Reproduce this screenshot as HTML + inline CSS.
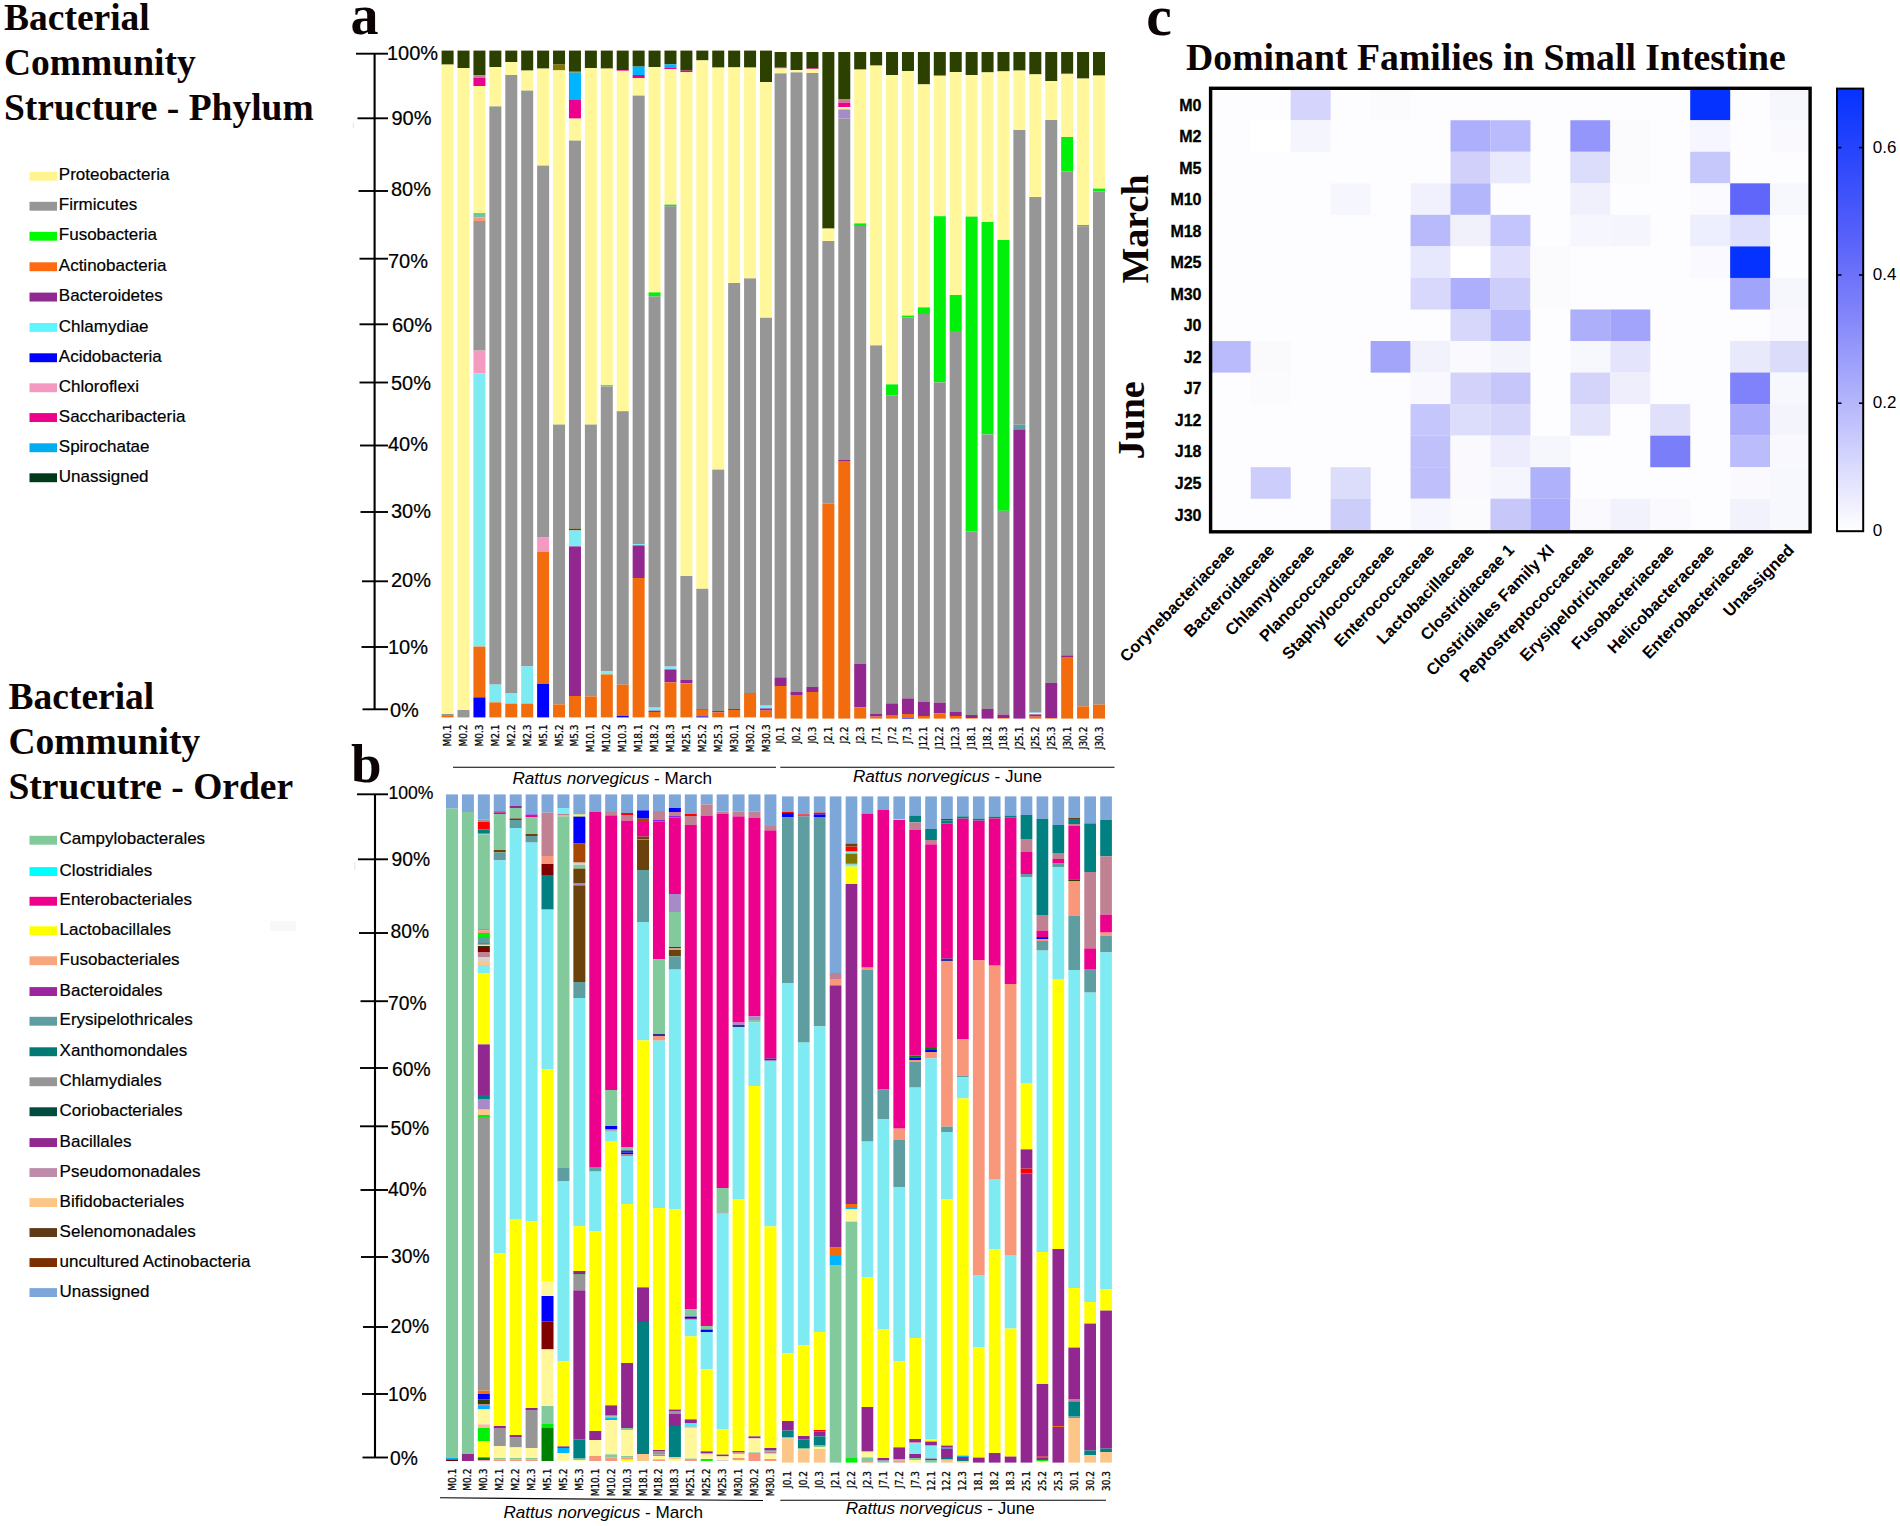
<!DOCTYPE html>
<html><head><meta charset="utf-8"><title>Bacterial Community Structure</title>
<style>
html,body{margin:0;padding:0;background:#fff;}
body{width:1900px;height:1526px;overflow:hidden;}
svg{display:block;}
.ttl{font-family:"Liberation Serif",serif;font-weight:bold;font-size:37.5px;fill:#0c0404;}
.ttl2{font-family:"Liberation Serif",serif;font-weight:bold;font-size:37.75px;fill:#0c0404;}
.pl{font-family:"Liberation Serif",serif;font-weight:bold;fill:#0c0404;}
.mj{font-family:"Liberation Serif",serif;font-weight:bold;font-size:38px;fill:#0c0404;}
.lg{font-family:"Liberation Sans",sans-serif;font-size:17px;fill:#000;stroke:#000;stroke-width:0.2px;}
.ax{font-family:"Liberation Sans",sans-serif;fill:#000;stroke:#000;stroke-width:0.2px;}
.rn{font-family:"Liberation Sans",sans-serif;font-size:17.1px;fill:#000;}
.sl{font-family:"DejaVu Sans",sans-serif;font-size:9px;fill:#000;stroke:#000;stroke-width:0.25px;}
.rl{font-family:"Liberation Sans",sans-serif;font-weight:bold;font-size:16px;fill:#000;stroke:#000;stroke-width:0.3px;}
.cl{font-family:"Liberation Sans",sans-serif;font-weight:bold;font-size:16.45px;fill:#000;}
.cbl{font-family:"Liberation Sans",sans-serif;font-size:17px;fill:#000;}
</style></head><body>
<svg width="1900" height="1526" viewBox="0 0 1900 1526">
<rect width="1900" height="1526" fill="#ffffff"/>
<g shape-rendering="auto">
<rect x="441.60" y="50.60" width="12" height="14.00" fill="#2c4000"/>
<rect x="441.60" y="64.60" width="12" height="649.40" fill="#fff799"/>
<rect x="441.60" y="714.00" width="12" height="2.00" fill="#969696"/>
<rect x="441.60" y="716.00" width="12" height="1.40" fill="#f26c0d"/>
<rect x="457.52" y="50.60" width="12" height="17.40" fill="#2c4000"/>
<rect x="457.52" y="68.00" width="12" height="642.00" fill="#fff799"/>
<rect x="457.52" y="710.00" width="12" height="7.00" fill="#969696"/>
<rect x="457.52" y="717.00" width="12" height="0.40" fill="#f26c0d"/>
<rect x="473.44" y="50.60" width="12" height="24.80" fill="#2c4000"/>
<rect x="473.44" y="75.40" width="12" height="2.60" fill="#c08292"/>
<rect x="473.44" y="78.00" width="12" height="8.00" fill="#ec008c"/>
<rect x="473.44" y="86.00" width="12" height="127.00" fill="#fff799"/>
<rect x="473.44" y="213.00" width="12" height="4.40" fill="#72c3a0"/>
<rect x="473.44" y="217.40" width="12" height="3.60" fill="#f9977a"/>
<rect x="473.44" y="221.00" width="12" height="129.60" fill="#969696"/>
<rect x="473.44" y="350.60" width="12" height="22.60" fill="#f49ac1"/>
<rect x="473.44" y="373.20" width="12" height="273.40" fill="#7eeaf2"/>
<rect x="473.44" y="646.60" width="12" height="50.80" fill="#f26c0d"/>
<rect x="473.44" y="697.40" width="12" height="20.00" fill="#0000ff"/>
<rect x="489.36" y="50.60" width="12" height="16.40" fill="#2c4000"/>
<rect x="489.36" y="67.00" width="12" height="39.40" fill="#fff799"/>
<rect x="489.36" y="106.40" width="12" height="578.20" fill="#969696"/>
<rect x="489.36" y="684.60" width="12" height="17.80" fill="#7eeaf2"/>
<rect x="489.36" y="702.40" width="12" height="15.00" fill="#f26c0d"/>
<rect x="505.28" y="50.60" width="12" height="11.40" fill="#2c4000"/>
<rect x="505.28" y="62.00" width="12" height="13.00" fill="#fff799"/>
<rect x="505.28" y="75.00" width="12" height="618.00" fill="#969696"/>
<rect x="505.28" y="693.00" width="12" height="10.60" fill="#7eeaf2"/>
<rect x="505.28" y="703.60" width="12" height="13.80" fill="#f26c0d"/>
<rect x="521.20" y="50.60" width="12" height="20.00" fill="#2c4000"/>
<rect x="521.20" y="70.60" width="12" height="20.00" fill="#fff799"/>
<rect x="521.20" y="90.60" width="12" height="575.80" fill="#969696"/>
<rect x="521.20" y="666.40" width="12" height="37.20" fill="#7eeaf2"/>
<rect x="521.20" y="703.60" width="12" height="13.80" fill="#f26c0d"/>
<rect x="537.12" y="50.60" width="12" height="18.00" fill="#2c4000"/>
<rect x="537.12" y="68.60" width="12" height="97.00" fill="#fff799"/>
<rect x="537.12" y="165.60" width="12" height="372.00" fill="#969696"/>
<rect x="537.12" y="537.60" width="12" height="14.00" fill="#f49ac1"/>
<rect x="537.12" y="551.60" width="12" height="132.40" fill="#f26c0d"/>
<rect x="537.12" y="684.00" width="12" height="33.40" fill="#0000ff"/>
<rect x="553.04" y="50.60" width="12" height="14.00" fill="#2c4000"/>
<rect x="553.04" y="64.60" width="12" height="5.80" fill="#807800"/>
<rect x="553.04" y="70.40" width="12" height="354.20" fill="#fff799"/>
<rect x="553.04" y="424.60" width="12" height="279.80" fill="#969696"/>
<rect x="553.04" y="704.40" width="12" height="13.00" fill="#f26c0d"/>
<rect x="568.96" y="50.60" width="12" height="20.40" fill="#2c4000"/>
<rect x="568.96" y="71.00" width="12" height="1.60" fill="#807800"/>
<rect x="568.96" y="72.60" width="12" height="27.40" fill="#00b4ff"/>
<rect x="568.96" y="100.00" width="12" height="18.60" fill="#ec008c"/>
<rect x="568.96" y="118.60" width="12" height="22.00" fill="#fff799"/>
<rect x="568.96" y="140.60" width="12" height="388.00" fill="#969696"/>
<rect x="568.96" y="528.60" width="12" height="1.80" fill="#6b420c"/>
<rect x="568.96" y="530.40" width="12" height="16.00" fill="#7eeaf2"/>
<rect x="568.96" y="546.40" width="12" height="149.60" fill="#92278f"/>
<rect x="568.96" y="696.00" width="12" height="21.40" fill="#f26c0d"/>
<rect x="584.88" y="50.60" width="12" height="17.40" fill="#2c4000"/>
<rect x="584.88" y="68.00" width="12" height="356.60" fill="#fff799"/>
<rect x="584.88" y="424.60" width="12" height="271.80" fill="#969696"/>
<rect x="584.88" y="696.40" width="12" height="21.00" fill="#f26c0d"/>
<rect x="600.80" y="50.60" width="12" height="18.00" fill="#2c4000"/>
<rect x="600.80" y="68.60" width="12" height="316.40" fill="#fff799"/>
<rect x="600.80" y="385.00" width="12" height="1.60" fill="#72c3a0"/>
<rect x="600.80" y="386.60" width="12" height="284.80" fill="#969696"/>
<rect x="600.80" y="671.40" width="12" height="3.00" fill="#7eeaf2"/>
<rect x="600.80" y="674.40" width="12" height="43.00" fill="#f26c0d"/>
<rect x="616.72" y="50.60" width="12" height="19.40" fill="#2c4000"/>
<rect x="616.72" y="70.00" width="12" height="0.80" fill="#ec008c"/>
<rect x="616.72" y="70.80" width="12" height="340.40" fill="#fff799"/>
<rect x="616.72" y="411.20" width="12" height="273.40" fill="#969696"/>
<rect x="616.72" y="684.60" width="12" height="31.40" fill="#f26c0d"/>
<rect x="616.72" y="716.00" width="12" height="1.40" fill="#0000ff"/>
<rect x="632.64" y="50.60" width="12" height="16.00" fill="#2c4000"/>
<rect x="632.64" y="66.60" width="12" height="8.40" fill="#00b4ff"/>
<rect x="632.64" y="75.00" width="12" height="3.00" fill="#ec008c"/>
<rect x="632.64" y="78.00" width="12" height="17.60" fill="#fff799"/>
<rect x="632.64" y="95.60" width="12" height="448.40" fill="#969696"/>
<rect x="632.64" y="544.00" width="12" height="1.40" fill="#7eeaf2"/>
<rect x="632.64" y="545.40" width="12" height="32.60" fill="#92278f"/>
<rect x="632.64" y="578.00" width="12" height="139.40" fill="#f26c0d"/>
<rect x="648.56" y="50.60" width="12" height="16.40" fill="#2c4000"/>
<rect x="648.56" y="67.00" width="12" height="225.40" fill="#fff799"/>
<rect x="648.56" y="292.40" width="12" height="4.00" fill="#00f00a"/>
<rect x="648.56" y="296.40" width="12" height="411.20" fill="#969696"/>
<rect x="648.56" y="707.60" width="12" height="3.00" fill="#7eeaf2"/>
<rect x="648.56" y="710.60" width="12" height="1.40" fill="#92278f"/>
<rect x="648.56" y="712.00" width="12" height="5.40" fill="#f26c0d"/>
<rect x="664.48" y="50.60" width="12" height="13.80" fill="#2c4000"/>
<rect x="664.48" y="64.40" width="12" height="3.60" fill="#00b4ff"/>
<rect x="664.48" y="68.00" width="12" height="1.00" fill="#ec008c"/>
<rect x="664.48" y="69.00" width="12" height="135.60" fill="#fff799"/>
<rect x="664.48" y="204.60" width="12" height="1.60" fill="#00f00a"/>
<rect x="664.48" y="206.20" width="12" height="460.40" fill="#969696"/>
<rect x="664.48" y="666.60" width="12" height="2.80" fill="#7eeaf2"/>
<rect x="664.48" y="669.40" width="12" height="13.00" fill="#92278f"/>
<rect x="664.48" y="682.40" width="12" height="35.00" fill="#f26c0d"/>
<rect x="680.40" y="50.60" width="12" height="20.00" fill="#2c4000"/>
<rect x="680.40" y="70.60" width="12" height="1.60" fill="#ec008c"/>
<rect x="680.40" y="72.20" width="12" height="503.80" fill="#fff799"/>
<rect x="680.40" y="576.00" width="12" height="104.00" fill="#969696"/>
<rect x="680.40" y="680.00" width="12" height="3.40" fill="#92278f"/>
<rect x="680.40" y="683.40" width="12" height="34.00" fill="#f26c0d"/>
<rect x="696.32" y="50.60" width="12" height="9.80" fill="#2c4000"/>
<rect x="696.32" y="60.40" width="12" height="528.40" fill="#fff799"/>
<rect x="696.32" y="588.80" width="12" height="120.20" fill="#969696"/>
<rect x="696.32" y="709.00" width="12" height="0.80" fill="#92278f"/>
<rect x="696.32" y="709.80" width="12" height="6.60" fill="#f26c0d"/>
<rect x="696.32" y="716.40" width="12" height="1.00" fill="#0000ff"/>
<rect x="712.24" y="50.60" width="12" height="17.00" fill="#2c4000"/>
<rect x="712.24" y="67.60" width="12" height="402.00" fill="#fff799"/>
<rect x="712.24" y="469.60" width="12" height="241.40" fill="#969696"/>
<rect x="712.24" y="711.00" width="12" height="1.40" fill="#92278f"/>
<rect x="712.24" y="712.40" width="12" height="5.00" fill="#f26c0d"/>
<rect x="728.16" y="50.60" width="12" height="16.80" fill="#2c4000"/>
<rect x="728.16" y="67.40" width="12" height="215.60" fill="#fff799"/>
<rect x="728.16" y="283.00" width="12" height="426.00" fill="#969696"/>
<rect x="728.16" y="709.00" width="12" height="1.00" fill="#92278f"/>
<rect x="728.16" y="710.00" width="12" height="7.40" fill="#f26c0d"/>
<rect x="744.08" y="50.60" width="12" height="17.00" fill="#2c4000"/>
<rect x="744.08" y="67.60" width="12" height="210.80" fill="#fff799"/>
<rect x="744.08" y="278.40" width="12" height="415.00" fill="#969696"/>
<rect x="744.08" y="693.40" width="12" height="0.60" fill="#92278f"/>
<rect x="744.08" y="694.00" width="12" height="23.40" fill="#f26c0d"/>
<rect x="760.00" y="50.60" width="12" height="31.40" fill="#2c4000"/>
<rect x="760.00" y="82.00" width="12" height="235.80" fill="#fff799"/>
<rect x="760.00" y="317.80" width="12" height="387.80" fill="#969696"/>
<rect x="760.00" y="705.60" width="12" height="2.80" fill="#7eeaf2"/>
<rect x="760.00" y="708.40" width="12" height="2.20" fill="#92278f"/>
<rect x="760.00" y="710.60" width="12" height="6.80" fill="#f26c0d"/>
<rect x="774.60" y="52.00" width="12" height="15.40" fill="#2c4000"/>
<rect x="774.60" y="67.40" width="12" height="1.00" fill="#ec008c"/>
<rect x="774.60" y="68.40" width="12" height="5.00" fill="#fff799"/>
<rect x="774.60" y="73.40" width="12" height="604.00" fill="#969696"/>
<rect x="774.60" y="677.40" width="12" height="8.60" fill="#92278f"/>
<rect x="774.60" y="686.00" width="12" height="32.60" fill="#f26c0d"/>
<rect x="790.52" y="52.00" width="12" height="18.00" fill="#2c4000"/>
<rect x="790.52" y="70.00" width="12" height="2.40" fill="#fff799"/>
<rect x="790.52" y="72.40" width="12" height="619.60" fill="#969696"/>
<rect x="790.52" y="692.00" width="12" height="3.00" fill="#92278f"/>
<rect x="790.52" y="695.00" width="12" height="23.60" fill="#f26c0d"/>
<rect x="806.44" y="52.00" width="12" height="16.40" fill="#2c4000"/>
<rect x="806.44" y="68.40" width="12" height="0.80" fill="#ec008c"/>
<rect x="806.44" y="69.20" width="12" height="3.80" fill="#fff799"/>
<rect x="806.44" y="73.00" width="12" height="614.00" fill="#969696"/>
<rect x="806.44" y="687.00" width="12" height="5.00" fill="#92278f"/>
<rect x="806.44" y="692.00" width="12" height="26.60" fill="#f26c0d"/>
<rect x="822.36" y="52.00" width="12" height="176.60" fill="#2c4000"/>
<rect x="822.36" y="228.60" width="12" height="12.40" fill="#fff799"/>
<rect x="822.36" y="241.00" width="12" height="262.60" fill="#969696"/>
<rect x="822.36" y="503.60" width="12" height="215.00" fill="#f26c0d"/>
<rect x="838.28" y="52.00" width="12" height="47.00" fill="#2c4000"/>
<rect x="838.28" y="99.00" width="12" height="3.60" fill="#c08292"/>
<rect x="838.28" y="102.60" width="12" height="4.40" fill="#ec008c"/>
<rect x="838.28" y="107.00" width="12" height="2.40" fill="#fff799"/>
<rect x="838.28" y="109.40" width="12" height="9.20" fill="#a78bc9"/>
<rect x="838.28" y="118.60" width="12" height="341.40" fill="#969696"/>
<rect x="838.28" y="460.00" width="12" height="1.00" fill="#92278f"/>
<rect x="838.28" y="461.00" width="12" height="257.60" fill="#f26c0d"/>
<rect x="854.20" y="52.00" width="12" height="17.60" fill="#2c4000"/>
<rect x="854.20" y="69.60" width="12" height="153.80" fill="#fff799"/>
<rect x="854.20" y="223.40" width="12" height="2.60" fill="#00f00a"/>
<rect x="854.20" y="226.00" width="12" height="438.00" fill="#969696"/>
<rect x="854.20" y="664.00" width="12" height="43.40" fill="#92278f"/>
<rect x="854.20" y="707.40" width="12" height="11.20" fill="#f26c0d"/>
<rect x="870.12" y="52.00" width="12" height="13.60" fill="#2c4000"/>
<rect x="870.12" y="65.60" width="12" height="279.80" fill="#fff799"/>
<rect x="870.12" y="345.40" width="12" height="368.60" fill="#969696"/>
<rect x="870.12" y="714.00" width="12" height="2.60" fill="#92278f"/>
<rect x="870.12" y="716.60" width="12" height="2.00" fill="#f26c0d"/>
<rect x="886.04" y="52.00" width="12" height="23.00" fill="#2c4000"/>
<rect x="886.04" y="75.00" width="12" height="309.40" fill="#fff799"/>
<rect x="886.04" y="384.40" width="12" height="11.20" fill="#00f00a"/>
<rect x="886.04" y="395.60" width="12" height="307.80" fill="#969696"/>
<rect x="886.04" y="703.40" width="12" height="11.60" fill="#92278f"/>
<rect x="886.04" y="715.00" width="12" height="3.60" fill="#f26c0d"/>
<rect x="901.96" y="52.00" width="12" height="19.00" fill="#2c4000"/>
<rect x="901.96" y="71.00" width="12" height="244.60" fill="#fff799"/>
<rect x="901.96" y="315.60" width="12" height="2.00" fill="#00f00a"/>
<rect x="901.96" y="317.60" width="12" height="380.80" fill="#969696"/>
<rect x="901.96" y="698.40" width="12" height="15.60" fill="#92278f"/>
<rect x="901.96" y="714.00" width="12" height="4.00" fill="#f26c0d"/>
<rect x="901.96" y="718.00" width="12" height="0.60" fill="#0000ff"/>
<rect x="917.88" y="52.00" width="12" height="32.40" fill="#2c4000"/>
<rect x="917.88" y="84.40" width="12" height="223.00" fill="#fff799"/>
<rect x="917.88" y="307.40" width="12" height="6.60" fill="#00f00a"/>
<rect x="917.88" y="314.00" width="12" height="387.60" fill="#969696"/>
<rect x="917.88" y="701.60" width="12" height="14.40" fill="#92278f"/>
<rect x="917.88" y="716.00" width="12" height="2.60" fill="#f26c0d"/>
<rect x="933.80" y="52.00" width="12" height="23.00" fill="#2c4000"/>
<rect x="933.80" y="75.00" width="12" height="0.80" fill="#ec008c"/>
<rect x="933.80" y="75.80" width="12" height="140.40" fill="#fff799"/>
<rect x="933.80" y="216.20" width="12" height="166.20" fill="#00f00a"/>
<rect x="933.80" y="382.40" width="12" height="320.20" fill="#969696"/>
<rect x="933.80" y="702.60" width="12" height="10.80" fill="#92278f"/>
<rect x="933.80" y="713.40" width="12" height="5.20" fill="#f26c0d"/>
<rect x="949.72" y="52.00" width="12" height="20.00" fill="#2c4000"/>
<rect x="949.72" y="72.00" width="12" height="223.00" fill="#fff799"/>
<rect x="949.72" y="295.00" width="12" height="36.00" fill="#00f00a"/>
<rect x="949.72" y="331.00" width="12" height="381.00" fill="#969696"/>
<rect x="949.72" y="712.00" width="12" height="4.00" fill="#92278f"/>
<rect x="949.72" y="716.00" width="12" height="2.60" fill="#f26c0d"/>
<rect x="965.64" y="52.00" width="12" height="23.00" fill="#2c4000"/>
<rect x="965.64" y="75.00" width="12" height="141.60" fill="#fff799"/>
<rect x="965.64" y="216.60" width="12" height="314.80" fill="#00f00a"/>
<rect x="965.64" y="531.40" width="12" height="183.60" fill="#969696"/>
<rect x="965.64" y="715.00" width="12" height="3.00" fill="#92278f"/>
<rect x="965.64" y="718.00" width="12" height="0.60" fill="#f26c0d"/>
<rect x="981.56" y="52.00" width="12" height="20.40" fill="#2c4000"/>
<rect x="981.56" y="72.40" width="12" height="149.60" fill="#fff799"/>
<rect x="981.56" y="222.00" width="12" height="212.40" fill="#00f00a"/>
<rect x="981.56" y="434.40" width="12" height="274.60" fill="#969696"/>
<rect x="981.56" y="709.00" width="12" height="9.60" fill="#92278f"/>
<rect x="997.48" y="52.00" width="12" height="19.40" fill="#2c4000"/>
<rect x="997.48" y="71.40" width="12" height="168.60" fill="#fff799"/>
<rect x="997.48" y="240.00" width="12" height="270.80" fill="#00f00a"/>
<rect x="997.48" y="510.80" width="12" height="203.80" fill="#969696"/>
<rect x="997.48" y="714.60" width="12" height="3.40" fill="#92278f"/>
<rect x="997.48" y="718.00" width="12" height="0.60" fill="#f26c0d"/>
<rect x="1013.40" y="52.00" width="12" height="18.60" fill="#2c4000"/>
<rect x="1013.40" y="70.60" width="12" height="59.40" fill="#fff799"/>
<rect x="1013.40" y="130.00" width="12" height="294.60" fill="#969696"/>
<rect x="1013.40" y="424.60" width="12" height="4.80" fill="#5f9ea0"/>
<rect x="1013.40" y="429.40" width="12" height="289.20" fill="#92278f"/>
<rect x="1029.32" y="52.00" width="12" height="22.40" fill="#2c4000"/>
<rect x="1029.32" y="74.40" width="12" height="122.60" fill="#fff799"/>
<rect x="1029.32" y="197.00" width="12" height="515.60" fill="#969696"/>
<rect x="1029.32" y="712.60" width="12" height="0.80" fill="#7eeaf2"/>
<rect x="1029.32" y="713.40" width="12" height="1.00" fill="#fff799"/>
<rect x="1029.32" y="714.40" width="12" height="2.20" fill="#92278f"/>
<rect x="1029.32" y="716.60" width="12" height="2.00" fill="#f26c0d"/>
<rect x="1045.24" y="52.00" width="12" height="29.00" fill="#2c4000"/>
<rect x="1045.24" y="81.00" width="12" height="39.00" fill="#fff799"/>
<rect x="1045.24" y="120.00" width="12" height="563.00" fill="#969696"/>
<rect x="1045.24" y="683.00" width="12" height="35.00" fill="#92278f"/>
<rect x="1045.24" y="718.00" width="12" height="0.60" fill="#f26c0d"/>
<rect x="1061.16" y="52.00" width="12" height="21.40" fill="#2c4000"/>
<rect x="1061.16" y="73.40" width="12" height="0.80" fill="#ec008c"/>
<rect x="1061.16" y="74.20" width="12" height="62.80" fill="#fff799"/>
<rect x="1061.16" y="137.00" width="12" height="34.40" fill="#00f00a"/>
<rect x="1061.16" y="171.40" width="12" height="484.00" fill="#969696"/>
<rect x="1061.16" y="655.40" width="12" height="1.60" fill="#92278f"/>
<rect x="1061.16" y="657.00" width="12" height="61.60" fill="#f26c0d"/>
<rect x="1077.08" y="52.00" width="12" height="26.60" fill="#2c4000"/>
<rect x="1077.08" y="78.60" width="12" height="146.40" fill="#fff799"/>
<rect x="1077.08" y="225.00" width="12" height="1.20" fill="#00f00a"/>
<rect x="1077.08" y="226.20" width="12" height="480.20" fill="#969696"/>
<rect x="1077.08" y="706.40" width="12" height="12.20" fill="#f26c0d"/>
<rect x="1093.00" y="52.00" width="12" height="23.60" fill="#2c4000"/>
<rect x="1093.00" y="75.60" width="12" height="113.00" fill="#fff799"/>
<rect x="1093.00" y="188.60" width="12" height="2.80" fill="#00f00a"/>
<rect x="1093.00" y="191.40" width="12" height="513.20" fill="#969696"/>
<rect x="1093.00" y="704.60" width="12" height="14.00" fill="#f26c0d"/>
<rect x="446.00" y="794.40" width="12" height="14.20" fill="#7da7d9"/>
<rect x="446.00" y="808.60" width="12" height="649.40" fill="#82ca9c"/>
<rect x="446.00" y="1458.00" width="12" height="1.40" fill="#00b4ff"/>
<rect x="446.00" y="1459.40" width="12" height="1.60" fill="#800000"/>
<rect x="461.92" y="794.40" width="12" height="17.60" fill="#7da7d9"/>
<rect x="461.92" y="812.00" width="12" height="642.00" fill="#82ca9c"/>
<rect x="461.92" y="1454.00" width="12" height="7.00" fill="#92278f"/>
<rect x="477.84" y="794.40" width="12" height="25.20" fill="#7da7d9"/>
<rect x="477.84" y="819.60" width="12" height="2.40" fill="#969696"/>
<rect x="477.84" y="822.00" width="12" height="7.60" fill="#ff0000"/>
<rect x="477.84" y="829.60" width="12" height="3.40" fill="#008080"/>
<rect x="477.84" y="833.00" width="12" height="1.40" fill="#5f9ea0"/>
<rect x="477.84" y="834.40" width="12" height="94.60" fill="#82ca9c"/>
<rect x="477.84" y="929.00" width="12" height="1.40" fill="#a78bc9"/>
<rect x="477.84" y="930.40" width="12" height="2.60" fill="#f9977a"/>
<rect x="477.84" y="933.00" width="12" height="4.00" fill="#00f00a"/>
<rect x="477.84" y="937.00" width="12" height="6.60" fill="#5f9ea0"/>
<rect x="477.84" y="943.60" width="12" height="1.00" fill="#0000ff"/>
<rect x="477.84" y="944.60" width="12" height="1.40" fill="#ffff00"/>
<rect x="477.84" y="946.00" width="12" height="1.00" fill="#2b3d00"/>
<rect x="477.84" y="947.00" width="12" height="5.00" fill="#800000"/>
<rect x="477.84" y="952.00" width="12" height="5.00" fill="#c08292"/>
<rect x="477.84" y="957.00" width="12" height="4.00" fill="#d2d2d2"/>
<rect x="477.84" y="961.00" width="12" height="4.00" fill="#fdc689"/>
<rect x="477.84" y="965.00" width="12" height="8.00" fill="#7eeaf2"/>
<rect x="477.84" y="973.00" width="12" height="71.40" fill="#ffff00"/>
<rect x="477.84" y="1044.40" width="12" height="50.60" fill="#92278f"/>
<rect x="477.84" y="1095.00" width="12" height="4.00" fill="#008080"/>
<rect x="477.84" y="1099.00" width="12" height="10.60" fill="#a78bc9"/>
<rect x="477.84" y="1109.60" width="12" height="5.40" fill="#fdc689"/>
<rect x="477.84" y="1115.00" width="12" height="2.00" fill="#00f00a"/>
<rect x="477.84" y="1117.00" width="12" height="273.60" fill="#969696"/>
<rect x="477.84" y="1390.60" width="12" height="3.40" fill="#f26c0d"/>
<rect x="477.84" y="1394.00" width="12" height="5.40" fill="#0000ff"/>
<rect x="477.84" y="1399.40" width="12" height="4.60" fill="#2c4000"/>
<rect x="477.84" y="1404.00" width="12" height="2.00" fill="#c08292"/>
<rect x="477.84" y="1406.00" width="12" height="3.40" fill="#00b4ff"/>
<rect x="477.84" y="1409.40" width="12" height="15.00" fill="#fff799"/>
<rect x="477.84" y="1424.40" width="12" height="3.60" fill="#fdb9a0"/>
<rect x="477.84" y="1428.00" width="12" height="13.40" fill="#00f00a"/>
<rect x="477.84" y="1441.40" width="12" height="16.00" fill="#ffff00"/>
<rect x="477.84" y="1457.40" width="12" height="2.60" fill="#008000"/>
<rect x="477.84" y="1460.00" width="12" height="1.00" fill="#f49ac1"/>
<rect x="493.76" y="794.40" width="12" height="17.00" fill="#7da7d9"/>
<rect x="493.76" y="811.40" width="12" height="1.20" fill="#ec008c"/>
<rect x="493.76" y="812.60" width="12" height="1.40" fill="#92278f"/>
<rect x="493.76" y="814.00" width="12" height="36.00" fill="#82ca9c"/>
<rect x="493.76" y="850.00" width="12" height="2.40" fill="#6b420c"/>
<rect x="493.76" y="852.40" width="12" height="8.00" fill="#5f9ea0"/>
<rect x="493.76" y="860.40" width="12" height="392.60" fill="#7eeaf2"/>
<rect x="493.76" y="1253.00" width="12" height="173.00" fill="#ffff00"/>
<rect x="493.76" y="1426.00" width="12" height="2.60" fill="#92278f"/>
<rect x="493.76" y="1428.60" width="12" height="17.40" fill="#969696"/>
<rect x="493.76" y="1446.00" width="12" height="12.00" fill="#fff799"/>
<rect x="493.76" y="1458.00" width="12" height="1.40" fill="#82ca9c"/>
<rect x="493.76" y="1459.40" width="12" height="1.60" fill="#f9977a"/>
<rect x="509.68" y="794.40" width="12" height="11.60" fill="#7da7d9"/>
<rect x="509.68" y="806.00" width="12" height="1.00" fill="#92278f"/>
<rect x="509.68" y="807.00" width="12" height="1.00" fill="#ec008c"/>
<rect x="509.68" y="808.00" width="12" height="10.40" fill="#82ca9c"/>
<rect x="509.68" y="818.40" width="12" height="1.60" fill="#6b420c"/>
<rect x="509.68" y="820.00" width="12" height="8.00" fill="#5f9ea0"/>
<rect x="509.68" y="828.00" width="12" height="391.60" fill="#7eeaf2"/>
<rect x="509.68" y="1219.60" width="12" height="215.40" fill="#ffff00"/>
<rect x="509.68" y="1435.00" width="12" height="2.00" fill="#92278f"/>
<rect x="509.68" y="1437.00" width="12" height="10.40" fill="#969696"/>
<rect x="509.68" y="1447.40" width="12" height="10.60" fill="#fff799"/>
<rect x="509.68" y="1458.00" width="12" height="1.40" fill="#82ca9c"/>
<rect x="509.68" y="1459.40" width="12" height="1.60" fill="#f9977a"/>
<rect x="525.60" y="794.40" width="12" height="20.00" fill="#7da7d9"/>
<rect x="525.60" y="814.40" width="12" height="1.60" fill="#8a2be2"/>
<rect x="525.60" y="816.00" width="12" height="1.40" fill="#ec008c"/>
<rect x="525.60" y="817.40" width="12" height="16.60" fill="#82ca9c"/>
<rect x="525.60" y="834.00" width="12" height="2.00" fill="#6b420c"/>
<rect x="525.60" y="836.00" width="12" height="6.60" fill="#5f9ea0"/>
<rect x="525.60" y="842.60" width="12" height="378.60" fill="#7eeaf2"/>
<rect x="525.60" y="1221.20" width="12" height="186.80" fill="#ffff00"/>
<rect x="525.60" y="1408.00" width="12" height="2.00" fill="#92278f"/>
<rect x="525.60" y="1410.00" width="12" height="38.00" fill="#969696"/>
<rect x="525.60" y="1448.00" width="12" height="10.00" fill="#fff799"/>
<rect x="525.60" y="1458.00" width="12" height="1.40" fill="#82ca9c"/>
<rect x="525.60" y="1459.40" width="12" height="1.60" fill="#f9977a"/>
<rect x="541.52" y="794.40" width="12" height="18.20" fill="#7da7d9"/>
<rect x="541.52" y="812.60" width="12" height="43.40" fill="#c08292"/>
<rect x="541.52" y="856.00" width="12" height="8.00" fill="#f9977a"/>
<rect x="541.52" y="864.00" width="12" height="11.00" fill="#800000"/>
<rect x="541.52" y="875.00" width="12" height="34.60" fill="#008080"/>
<rect x="541.52" y="909.60" width="12" height="159.40" fill="#7eeaf2"/>
<rect x="541.52" y="1069.00" width="12" height="212.20" fill="#ffff00"/>
<rect x="541.52" y="1281.20" width="12" height="14.80" fill="#fff799"/>
<rect x="541.52" y="1296.00" width="12" height="25.60" fill="#0000ff"/>
<rect x="541.52" y="1321.60" width="12" height="27.80" fill="#800000"/>
<rect x="541.52" y="1349.40" width="12" height="56.60" fill="#fff799"/>
<rect x="541.52" y="1406.00" width="12" height="18.00" fill="#82ca9c"/>
<rect x="541.52" y="1424.00" width="12" height="4.00" fill="#00f00a"/>
<rect x="541.52" y="1428.00" width="12" height="33.00" fill="#008000"/>
<rect x="557.44" y="794.40" width="12" height="13.60" fill="#7da7d9"/>
<rect x="557.44" y="808.00" width="12" height="6.00" fill="#7eeaf2"/>
<rect x="557.44" y="814.00" width="12" height="1.40" fill="#c08292"/>
<rect x="557.44" y="815.40" width="12" height="1.00" fill="#f9977a"/>
<rect x="557.44" y="816.40" width="12" height="351.60" fill="#82ca9c"/>
<rect x="557.44" y="1168.00" width="12" height="13.00" fill="#5f9ea0"/>
<rect x="557.44" y="1181.00" width="12" height="180.00" fill="#7eeaf2"/>
<rect x="557.44" y="1361.00" width="12" height="85.40" fill="#ffff00"/>
<rect x="557.44" y="1446.40" width="12" height="1.60" fill="#92278f"/>
<rect x="557.44" y="1448.00" width="12" height="5.00" fill="#00b4ff"/>
<rect x="557.44" y="1453.00" width="12" height="8.00" fill="#fff799"/>
<rect x="573.36" y="794.40" width="12" height="20.20" fill="#7da7d9"/>
<rect x="573.36" y="814.60" width="12" height="2.00" fill="#ffff00"/>
<rect x="573.36" y="816.60" width="12" height="27.00" fill="#0000ff"/>
<rect x="573.36" y="843.60" width="12" height="19.00" fill="#a84800"/>
<rect x="573.36" y="862.60" width="12" height="2.40" fill="#d2d2d2"/>
<rect x="573.36" y="865.00" width="12" height="3.60" fill="#82ca9c"/>
<rect x="573.36" y="868.60" width="12" height="15.00" fill="#6b420c"/>
<rect x="573.36" y="883.60" width="12" height="1.80" fill="#a78bc9"/>
<rect x="573.36" y="885.40" width="12" height="96.60" fill="#6b420c"/>
<rect x="573.36" y="982.00" width="12" height="16.00" fill="#5f9ea0"/>
<rect x="573.36" y="998.00" width="12" height="228.20" fill="#7eeaf2"/>
<rect x="573.36" y="1226.20" width="12" height="44.80" fill="#ffff00"/>
<rect x="573.36" y="1271.00" width="12" height="2.00" fill="#92278f"/>
<rect x="573.36" y="1273.00" width="12" height="1.60" fill="#008000"/>
<rect x="573.36" y="1274.60" width="12" height="15.80" fill="#969696"/>
<rect x="573.36" y="1290.40" width="12" height="149.20" fill="#92278f"/>
<rect x="573.36" y="1439.60" width="12" height="19.00" fill="#008080"/>
<rect x="573.36" y="1458.60" width="12" height="1.40" fill="#82ca9c"/>
<rect x="573.36" y="1460.00" width="12" height="1.00" fill="#fff799"/>
<rect x="589.28" y="794.40" width="12" height="17.60" fill="#7da7d9"/>
<rect x="589.28" y="812.00" width="12" height="355.00" fill="#ec008c"/>
<rect x="589.28" y="1167.00" width="12" height="4.60" fill="#5f9ea0"/>
<rect x="589.28" y="1171.60" width="12" height="59.80" fill="#7eeaf2"/>
<rect x="589.28" y="1231.40" width="12" height="199.60" fill="#ffff00"/>
<rect x="589.28" y="1431.00" width="12" height="9.00" fill="#92278f"/>
<rect x="589.28" y="1440.00" width="12" height="16.00" fill="#fff799"/>
<rect x="589.28" y="1456.00" width="12" height="5.00" fill="#f9977a"/>
<rect x="605.20" y="794.40" width="12" height="17.60" fill="#7da7d9"/>
<rect x="605.20" y="812.00" width="12" height="3.40" fill="#c08292"/>
<rect x="605.20" y="815.40" width="12" height="274.60" fill="#ec008c"/>
<rect x="605.20" y="1090.00" width="12" height="36.00" fill="#82ca9c"/>
<rect x="605.20" y="1126.00" width="12" height="3.00" fill="#0000ff"/>
<rect x="605.20" y="1129.00" width="12" height="1.40" fill="#c08292"/>
<rect x="605.20" y="1130.40" width="12" height="1.20" fill="#969696"/>
<rect x="605.20" y="1131.60" width="12" height="10.00" fill="#7eeaf2"/>
<rect x="605.20" y="1141.60" width="12" height="263.80" fill="#ffff00"/>
<rect x="605.20" y="1405.40" width="12" height="9.60" fill="#92278f"/>
<rect x="605.20" y="1415.00" width="12" height="1.60" fill="#969696"/>
<rect x="605.20" y="1416.60" width="12" height="1.40" fill="#82ca9c"/>
<rect x="605.20" y="1418.00" width="12" height="2.00" fill="#00b4ff"/>
<rect x="605.20" y="1420.00" width="12" height="34.40" fill="#fff799"/>
<rect x="605.20" y="1454.40" width="12" height="3.00" fill="#82ca9c"/>
<rect x="605.20" y="1457.40" width="12" height="3.60" fill="#f9977a"/>
<rect x="621.12" y="794.40" width="12" height="18.60" fill="#7da7d9"/>
<rect x="621.12" y="813.00" width="12" height="2.00" fill="#ff0000"/>
<rect x="621.12" y="815.00" width="12" height="5.60" fill="#c08292"/>
<rect x="621.12" y="820.60" width="12" height="326.40" fill="#ec008c"/>
<rect x="621.12" y="1147.00" width="12" height="3.40" fill="#82ca9c"/>
<rect x="621.12" y="1150.40" width="12" height="2.00" fill="#2e3192"/>
<rect x="621.12" y="1152.40" width="12" height="1.60" fill="#0000ff"/>
<rect x="621.12" y="1154.00" width="12" height="2.00" fill="#c08292"/>
<rect x="621.12" y="1156.00" width="12" height="48.00" fill="#7eeaf2"/>
<rect x="621.12" y="1204.00" width="12" height="159.00" fill="#ffff00"/>
<rect x="621.12" y="1363.00" width="12" height="65.00" fill="#92278f"/>
<rect x="621.12" y="1428.00" width="12" height="2.00" fill="#82ca9c"/>
<rect x="621.12" y="1430.00" width="12" height="26.00" fill="#fff799"/>
<rect x="621.12" y="1456.00" width="12" height="1.40" fill="#82ca9c"/>
<rect x="621.12" y="1457.40" width="12" height="2.20" fill="#f9977a"/>
<rect x="621.12" y="1459.60" width="12" height="1.40" fill="#ffff00"/>
<rect x="637.04" y="794.40" width="12" height="16.00" fill="#7da7d9"/>
<rect x="637.04" y="810.40" width="12" height="8.20" fill="#0000ff"/>
<rect x="637.04" y="818.60" width="12" height="3.40" fill="#a84800"/>
<rect x="637.04" y="822.00" width="12" height="14.60" fill="#ec008c"/>
<rect x="637.04" y="836.60" width="12" height="2.40" fill="#6b420c"/>
<rect x="637.04" y="839.00" width="12" height="0.80" fill="#a08a50"/>
<rect x="637.04" y="839.80" width="12" height="30.20" fill="#6b420c"/>
<rect x="637.04" y="870.00" width="12" height="52.00" fill="#5f9ea0"/>
<rect x="637.04" y="922.00" width="12" height="118.40" fill="#7eeaf2"/>
<rect x="637.04" y="1040.40" width="12" height="247.00" fill="#ffff00"/>
<rect x="637.04" y="1287.40" width="12" height="34.60" fill="#92278f"/>
<rect x="637.04" y="1322.00" width="12" height="132.00" fill="#008080"/>
<rect x="637.04" y="1454.00" width="12" height="7.00" fill="#fdc689"/>
<rect x="652.96" y="794.40" width="12" height="16.60" fill="#7da7d9"/>
<rect x="652.96" y="811.00" width="12" height="8.60" fill="#c08292"/>
<rect x="652.96" y="819.60" width="12" height="2.00" fill="#8a2be2"/>
<rect x="652.96" y="821.60" width="12" height="137.80" fill="#ec008c"/>
<rect x="652.96" y="959.40" width="12" height="74.60" fill="#82ca9c"/>
<rect x="652.96" y="1034.00" width="12" height="2.00" fill="#2e3192"/>
<rect x="652.96" y="1036.00" width="12" height="4.60" fill="#f9977a"/>
<rect x="652.96" y="1040.60" width="12" height="167.40" fill="#7eeaf2"/>
<rect x="652.96" y="1208.00" width="12" height="242.00" fill="#ffff00"/>
<rect x="652.96" y="1450.00" width="12" height="1.60" fill="#92278f"/>
<rect x="652.96" y="1451.60" width="12" height="1.40" fill="#969696"/>
<rect x="652.96" y="1453.00" width="12" height="1.50" fill="#c08292"/>
<rect x="652.96" y="1454.50" width="12" height="1.50" fill="#969696"/>
<rect x="652.96" y="1456.00" width="12" height="3.40" fill="#fff799"/>
<rect x="652.96" y="1459.40" width="12" height="1.60" fill="#f9977a"/>
<rect x="668.88" y="794.40" width="12" height="13.60" fill="#7da7d9"/>
<rect x="668.88" y="808.00" width="12" height="4.00" fill="#0000ff"/>
<rect x="668.88" y="812.00" width="12" height="4.00" fill="#c08292"/>
<rect x="668.88" y="816.00" width="12" height="1.40" fill="#8a2be2"/>
<rect x="668.88" y="817.40" width="12" height="76.60" fill="#ec008c"/>
<rect x="668.88" y="894.00" width="12" height="18.00" fill="#a78bc9"/>
<rect x="668.88" y="912.00" width="12" height="35.00" fill="#82ca9c"/>
<rect x="668.88" y="947.00" width="12" height="1.40" fill="#2e3192"/>
<rect x="668.88" y="948.40" width="12" height="1.60" fill="#f9977a"/>
<rect x="668.88" y="950.00" width="12" height="6.40" fill="#6b420c"/>
<rect x="668.88" y="956.40" width="12" height="13.20" fill="#5f9ea0"/>
<rect x="668.88" y="969.60" width="12" height="239.40" fill="#7eeaf2"/>
<rect x="668.88" y="1209.00" width="12" height="200.60" fill="#ffff00"/>
<rect x="668.88" y="1409.60" width="12" height="1.40" fill="#92278f"/>
<rect x="668.88" y="1411.00" width="12" height="3.00" fill="#969696"/>
<rect x="668.88" y="1414.00" width="12" height="12.00" fill="#92278f"/>
<rect x="668.88" y="1426.00" width="12" height="31.00" fill="#008080"/>
<rect x="668.88" y="1457.00" width="12" height="2.40" fill="#fdc689"/>
<rect x="668.88" y="1459.40" width="12" height="1.60" fill="#fff799"/>
<rect x="684.80" y="794.40" width="12" height="19.60" fill="#7da7d9"/>
<rect x="684.80" y="814.00" width="12" height="2.00" fill="#ff0000"/>
<rect x="684.80" y="816.00" width="12" height="9.00" fill="#c08292"/>
<rect x="684.80" y="825.00" width="12" height="484.00" fill="#ec008c"/>
<rect x="684.80" y="1309.00" width="12" height="7.60" fill="#82ca9c"/>
<rect x="684.80" y="1316.60" width="12" height="1.40" fill="#0000ff"/>
<rect x="684.80" y="1318.00" width="12" height="1.60" fill="#92278f"/>
<rect x="684.80" y="1319.60" width="12" height="16.80" fill="#7eeaf2"/>
<rect x="684.80" y="1336.40" width="12" height="83.00" fill="#ffff00"/>
<rect x="684.80" y="1419.40" width="12" height="4.00" fill="#92278f"/>
<rect x="684.80" y="1423.40" width="12" height="3.20" fill="#40f0ff"/>
<rect x="684.80" y="1426.60" width="12" height="1.00" fill="#c08292"/>
<rect x="684.80" y="1427.60" width="12" height="31.00" fill="#fff799"/>
<rect x="684.80" y="1458.60" width="12" height="1.40" fill="#82ca9c"/>
<rect x="684.80" y="1460.00" width="12" height="1.00" fill="#f9977a"/>
<rect x="700.72" y="794.40" width="12" height="10.00" fill="#7da7d9"/>
<rect x="700.72" y="804.40" width="12" height="11.20" fill="#c08292"/>
<rect x="700.72" y="815.60" width="12" height="510.40" fill="#ec008c"/>
<rect x="700.72" y="1326.00" width="12" height="3.60" fill="#82ca9c"/>
<rect x="700.72" y="1329.60" width="12" height="2.40" fill="#0000ff"/>
<rect x="700.72" y="1332.00" width="12" height="37.40" fill="#7eeaf2"/>
<rect x="700.72" y="1369.40" width="12" height="82.00" fill="#ffff00"/>
<rect x="700.72" y="1451.40" width="12" height="1.60" fill="#92278f"/>
<rect x="700.72" y="1453.00" width="12" height="1.40" fill="#f9977a"/>
<rect x="700.72" y="1454.40" width="12" height="4.60" fill="#fff799"/>
<rect x="700.72" y="1459.00" width="12" height="2.00" fill="#00f00a"/>
<rect x="716.64" y="794.40" width="12" height="17.20" fill="#7da7d9"/>
<rect x="716.64" y="811.60" width="12" height="2.00" fill="#c08292"/>
<rect x="716.64" y="813.60" width="12" height="374.40" fill="#ec008c"/>
<rect x="716.64" y="1188.00" width="12" height="24.40" fill="#82ca9c"/>
<rect x="716.64" y="1212.40" width="12" height="1.20" fill="#969696"/>
<rect x="716.64" y="1213.60" width="12" height="215.80" fill="#7eeaf2"/>
<rect x="716.64" y="1429.40" width="12" height="25.20" fill="#ffff00"/>
<rect x="716.64" y="1454.60" width="12" height="1.80" fill="#92278f"/>
<rect x="716.64" y="1456.40" width="12" height="3.60" fill="#fff799"/>
<rect x="716.64" y="1460.00" width="12" height="1.00" fill="#d2d2d2"/>
<rect x="732.56" y="794.40" width="12" height="17.00" fill="#7da7d9"/>
<rect x="732.56" y="811.40" width="12" height="5.00" fill="#c08292"/>
<rect x="732.56" y="816.40" width="12" height="206.20" fill="#ec008c"/>
<rect x="732.56" y="1022.60" width="12" height="2.40" fill="#a78bc9"/>
<rect x="732.56" y="1025.00" width="12" height="2.00" fill="#2e3192"/>
<rect x="732.56" y="1027.00" width="12" height="172.00" fill="#7eeaf2"/>
<rect x="732.56" y="1199.00" width="12" height="252.00" fill="#ffff00"/>
<rect x="732.56" y="1451.00" width="12" height="1.60" fill="#92278f"/>
<rect x="732.56" y="1452.60" width="12" height="1.40" fill="#f9977a"/>
<rect x="732.56" y="1454.00" width="12" height="4.00" fill="#fff799"/>
<rect x="732.56" y="1458.00" width="12" height="2.00" fill="#f9977a"/>
<rect x="732.56" y="1460.00" width="12" height="1.00" fill="#fff799"/>
<rect x="748.48" y="794.40" width="12" height="17.20" fill="#7da7d9"/>
<rect x="748.48" y="811.60" width="12" height="6.40" fill="#c08292"/>
<rect x="748.48" y="818.00" width="12" height="198.40" fill="#ec008c"/>
<rect x="748.48" y="1016.40" width="12" height="3.60" fill="#a78bc9"/>
<rect x="748.48" y="1020.00" width="12" height="2.40" fill="#82ca9c"/>
<rect x="748.48" y="1022.40" width="12" height="63.60" fill="#7eeaf2"/>
<rect x="748.48" y="1086.00" width="12" height="350.40" fill="#ffff00"/>
<rect x="748.48" y="1436.40" width="12" height="2.00" fill="#92278f"/>
<rect x="748.48" y="1438.40" width="12" height="14.00" fill="#fff799"/>
<rect x="748.48" y="1452.40" width="12" height="1.60" fill="#82ca9c"/>
<rect x="748.48" y="1454.00" width="12" height="7.00" fill="#f9977a"/>
<rect x="764.40" y="794.40" width="12" height="31.60" fill="#7da7d9"/>
<rect x="764.40" y="826.00" width="12" height="4.40" fill="#c08292"/>
<rect x="764.40" y="830.40" width="12" height="228.10" fill="#ec008c"/>
<rect x="764.40" y="1058.50" width="12" height="1.50" fill="#2e3192"/>
<rect x="764.40" y="1060.00" width="12" height="1.60" fill="#a78bc9"/>
<rect x="764.40" y="1061.60" width="12" height="164.80" fill="#7eeaf2"/>
<rect x="764.40" y="1226.40" width="12" height="221.60" fill="#ffff00"/>
<rect x="764.40" y="1448.00" width="12" height="2.00" fill="#92278f"/>
<rect x="764.40" y="1450.00" width="12" height="1.50" fill="#969696"/>
<rect x="764.40" y="1451.50" width="12" height="1.50" fill="#c08292"/>
<rect x="764.40" y="1453.00" width="12" height="1.40" fill="#7eeaf2"/>
<rect x="764.40" y="1454.40" width="12" height="4.60" fill="#fff799"/>
<rect x="764.40" y="1459.00" width="12" height="2.00" fill="#f9977a"/>
<rect x="782.00" y="796.40" width="11.7" height="15.60" fill="#7da7d9"/>
<rect x="782.00" y="812.00" width="11.7" height="1.00" fill="#ff0000"/>
<rect x="782.00" y="813.00" width="11.7" height="4.40" fill="#0000ff"/>
<rect x="782.00" y="817.40" width="11.7" height="165.60" fill="#5f9ea0"/>
<rect x="782.00" y="983.00" width="11.7" height="370.00" fill="#7eeaf2"/>
<rect x="782.00" y="1353.00" width="11.7" height="68.00" fill="#ffff00"/>
<rect x="782.00" y="1421.00" width="11.7" height="9.60" fill="#92278f"/>
<rect x="782.00" y="1430.60" width="11.7" height="6.40" fill="#008080"/>
<rect x="782.00" y="1437.00" width="11.7" height="1.40" fill="#82ca9c"/>
<rect x="782.00" y="1438.40" width="11.7" height="24.20" fill="#fdc689"/>
<rect x="797.91" y="796.40" width="11.7" height="18.00" fill="#7da7d9"/>
<rect x="797.91" y="814.40" width="11.7" height="1.00" fill="#ff0000"/>
<rect x="797.91" y="815.40" width="11.7" height="1.00" fill="#92278f"/>
<rect x="797.91" y="816.40" width="11.7" height="226.20" fill="#5f9ea0"/>
<rect x="797.91" y="1042.60" width="11.7" height="302.80" fill="#7eeaf2"/>
<rect x="797.91" y="1345.40" width="11.7" height="90.60" fill="#ffff00"/>
<rect x="797.91" y="1436.00" width="11.7" height="3.40" fill="#92278f"/>
<rect x="797.91" y="1439.40" width="11.7" height="8.60" fill="#008080"/>
<rect x="797.91" y="1448.00" width="11.7" height="1.40" fill="#82ca9c"/>
<rect x="797.91" y="1449.40" width="11.7" height="13.20" fill="#fdc689"/>
<rect x="813.82" y="796.40" width="11.7" height="16.20" fill="#7da7d9"/>
<rect x="813.82" y="812.60" width="11.7" height="1.80" fill="#ff0000"/>
<rect x="813.82" y="814.40" width="11.7" height="2.60" fill="#0000ff"/>
<rect x="813.82" y="817.00" width="11.7" height="209.40" fill="#5f9ea0"/>
<rect x="813.82" y="1026.40" width="11.7" height="305.60" fill="#7eeaf2"/>
<rect x="813.82" y="1332.00" width="11.7" height="98.00" fill="#ffff00"/>
<rect x="813.82" y="1430.00" width="11.7" height="1.40" fill="#ff0000"/>
<rect x="813.82" y="1431.40" width="11.7" height="5.00" fill="#92278f"/>
<rect x="813.82" y="1436.40" width="11.7" height="9.20" fill="#008080"/>
<rect x="813.82" y="1445.60" width="11.7" height="1.40" fill="#82ca9c"/>
<rect x="813.82" y="1447.00" width="11.7" height="2.00" fill="#fff799"/>
<rect x="813.82" y="1449.00" width="11.7" height="13.60" fill="#fdc689"/>
<rect x="829.73" y="796.40" width="11.7" height="176.60" fill="#7da7d9"/>
<rect x="829.73" y="973.00" width="11.7" height="6.00" fill="#c08292"/>
<rect x="829.73" y="979.00" width="11.7" height="6.00" fill="#f9977a"/>
<rect x="829.73" y="985.00" width="11.7" height="1.00" fill="#f26c0d"/>
<rect x="829.73" y="986.00" width="11.7" height="261.60" fill="#92278f"/>
<rect x="829.73" y="1247.60" width="11.7" height="7.40" fill="#f26c0d"/>
<rect x="829.73" y="1255.00" width="11.7" height="10.60" fill="#00b4ff"/>
<rect x="829.73" y="1265.60" width="11.7" height="197.00" fill="#82ca9c"/>
<rect x="845.64" y="796.40" width="11.7" height="47.20" fill="#7da7d9"/>
<rect x="845.64" y="843.60" width="11.7" height="3.00" fill="#6b420c"/>
<rect x="845.64" y="846.60" width="11.7" height="5.00" fill="#ff0000"/>
<rect x="845.64" y="851.60" width="11.7" height="2.00" fill="#7eeaf2"/>
<rect x="845.64" y="853.60" width="11.7" height="9.40" fill="#807800"/>
<rect x="845.64" y="863.00" width="11.7" height="1.60" fill="#5f9ea0"/>
<rect x="845.64" y="864.60" width="11.7" height="2.00" fill="#7eeaf2"/>
<rect x="845.64" y="866.60" width="11.7" height="17.40" fill="#ffff00"/>
<rect x="845.64" y="884.00" width="11.7" height="320.00" fill="#92278f"/>
<rect x="845.64" y="1204.00" width="11.7" height="3.00" fill="#f26c0d"/>
<rect x="845.64" y="1207.00" width="11.7" height="2.00" fill="#00b4ff"/>
<rect x="845.64" y="1209.00" width="11.7" height="12.60" fill="#fff799"/>
<rect x="845.64" y="1221.60" width="11.7" height="236.40" fill="#82ca9c"/>
<rect x="845.64" y="1458.00" width="11.7" height="4.60" fill="#00f00a"/>
<rect x="861.55" y="796.40" width="11.7" height="17.20" fill="#7da7d9"/>
<rect x="861.55" y="813.60" width="11.7" height="154.00" fill="#ec008c"/>
<rect x="861.55" y="967.60" width="11.7" height="2.40" fill="#f9977a"/>
<rect x="861.55" y="970.00" width="11.7" height="171.60" fill="#5f9ea0"/>
<rect x="861.55" y="1141.60" width="11.7" height="135.40" fill="#7eeaf2"/>
<rect x="861.55" y="1277.00" width="11.7" height="130.00" fill="#ffff00"/>
<rect x="861.55" y="1407.00" width="11.7" height="44.60" fill="#92278f"/>
<rect x="861.55" y="1451.60" width="11.7" height="5.80" fill="#fff799"/>
<rect x="861.55" y="1457.40" width="11.7" height="3.60" fill="#82ca9c"/>
<rect x="861.55" y="1461.00" width="11.7" height="1.60" fill="#f9977a"/>
<rect x="877.46" y="796.40" width="11.7" height="13.60" fill="#7da7d9"/>
<rect x="877.46" y="810.00" width="11.7" height="279.60" fill="#ec008c"/>
<rect x="877.46" y="1089.60" width="11.7" height="29.40" fill="#5f9ea0"/>
<rect x="877.46" y="1119.00" width="11.7" height="210.00" fill="#7eeaf2"/>
<rect x="877.46" y="1329.00" width="11.7" height="129.00" fill="#ffff00"/>
<rect x="877.46" y="1458.00" width="11.7" height="2.60" fill="#92278f"/>
<rect x="877.46" y="1460.60" width="11.7" height="2.00" fill="#82ca9c"/>
<rect x="893.37" y="796.40" width="11.7" height="22.60" fill="#7da7d9"/>
<rect x="893.37" y="819.00" width="11.7" height="1.00" fill="#7eeaf2"/>
<rect x="893.37" y="820.00" width="11.7" height="308.60" fill="#ec008c"/>
<rect x="893.37" y="1128.60" width="11.7" height="11.40" fill="#f9977a"/>
<rect x="893.37" y="1140.00" width="11.7" height="47.40" fill="#5f9ea0"/>
<rect x="893.37" y="1187.40" width="11.7" height="173.60" fill="#7eeaf2"/>
<rect x="893.37" y="1361.00" width="11.7" height="86.40" fill="#ffff00"/>
<rect x="893.37" y="1447.40" width="11.7" height="11.60" fill="#92278f"/>
<rect x="893.37" y="1459.00" width="11.7" height="1.60" fill="#82ca9c"/>
<rect x="893.37" y="1460.60" width="11.7" height="2.00" fill="#f9977a"/>
<rect x="909.28" y="796.40" width="11.7" height="19.20" fill="#7da7d9"/>
<rect x="909.28" y="815.60" width="11.7" height="6.80" fill="#008080"/>
<rect x="909.28" y="822.40" width="11.7" height="7.60" fill="#c08292"/>
<rect x="909.28" y="830.00" width="11.7" height="225.60" fill="#ec008c"/>
<rect x="909.28" y="1055.60" width="11.7" height="1.80" fill="#008000"/>
<rect x="909.28" y="1057.40" width="11.7" height="2.60" fill="#0000ff"/>
<rect x="909.28" y="1060.00" width="11.7" height="2.00" fill="#f9977a"/>
<rect x="909.28" y="1062.00" width="11.7" height="25.60" fill="#5f9ea0"/>
<rect x="909.28" y="1087.60" width="11.7" height="250.40" fill="#7eeaf2"/>
<rect x="909.28" y="1338.00" width="11.7" height="101.00" fill="#ffff00"/>
<rect x="909.28" y="1439.00" width="11.7" height="3.40" fill="#92278f"/>
<rect x="909.28" y="1442.40" width="11.7" height="1.00" fill="#c08292"/>
<rect x="909.28" y="1443.40" width="11.7" height="10.60" fill="#7eeaf2"/>
<rect x="909.28" y="1454.00" width="11.7" height="4.00" fill="#92278f"/>
<rect x="909.28" y="1458.00" width="11.7" height="2.00" fill="#82ca9c"/>
<rect x="909.28" y="1460.00" width="11.7" height="2.60" fill="#fff799"/>
<rect x="925.19" y="796.40" width="11.7" height="32.60" fill="#7da7d9"/>
<rect x="925.19" y="829.00" width="11.7" height="11.00" fill="#008080"/>
<rect x="925.19" y="840.00" width="11.7" height="4.40" fill="#c08292"/>
<rect x="925.19" y="844.40" width="11.7" height="203.60" fill="#ec008c"/>
<rect x="925.19" y="1048.00" width="11.7" height="2.00" fill="#008000"/>
<rect x="925.19" y="1050.00" width="11.7" height="2.00" fill="#0000ff"/>
<rect x="925.19" y="1052.00" width="11.7" height="6.40" fill="#f9977a"/>
<rect x="925.19" y="1058.40" width="11.7" height="380.60" fill="#7eeaf2"/>
<rect x="925.19" y="1439.00" width="11.7" height="2.60" fill="#ffff00"/>
<rect x="925.19" y="1441.60" width="11.7" height="4.00" fill="#92278f"/>
<rect x="925.19" y="1445.60" width="11.7" height="13.00" fill="#7eeaf2"/>
<rect x="925.19" y="1458.60" width="11.7" height="1.40" fill="#92278f"/>
<rect x="925.19" y="1460.00" width="11.7" height="2.60" fill="#82ca9c"/>
<rect x="941.10" y="796.40" width="11.7" height="22.60" fill="#7da7d9"/>
<rect x="941.10" y="819.00" width="11.7" height="1.40" fill="#6b420c"/>
<rect x="941.10" y="820.40" width="11.7" height="3.00" fill="#008080"/>
<rect x="941.10" y="823.40" width="11.7" height="135.20" fill="#ec008c"/>
<rect x="941.10" y="958.60" width="11.7" height="2.40" fill="#2e3192"/>
<rect x="941.10" y="961.00" width="11.7" height="165.60" fill="#f9977a"/>
<rect x="941.10" y="1126.60" width="11.7" height="5.40" fill="#5f9ea0"/>
<rect x="941.10" y="1132.00" width="11.7" height="67.40" fill="#7eeaf2"/>
<rect x="941.10" y="1199.40" width="11.7" height="246.20" fill="#ffff00"/>
<rect x="941.10" y="1445.60" width="11.7" height="1.40" fill="#92278f"/>
<rect x="941.10" y="1447.00" width="11.7" height="1.60" fill="#00b4ff"/>
<rect x="941.10" y="1448.60" width="11.7" height="9.40" fill="#92278f"/>
<rect x="941.10" y="1458.00" width="11.7" height="1.60" fill="#008080"/>
<rect x="941.10" y="1459.60" width="11.7" height="3.00" fill="#fdc689"/>
<rect x="957.01" y="796.40" width="11.7" height="20.00" fill="#7da7d9"/>
<rect x="957.01" y="816.40" width="11.7" height="2.20" fill="#008080"/>
<rect x="957.01" y="818.60" width="11.7" height="220.40" fill="#ec008c"/>
<rect x="957.01" y="1039.00" width="11.7" height="36.60" fill="#f9977a"/>
<rect x="957.01" y="1075.60" width="11.7" height="1.80" fill="#5f9ea0"/>
<rect x="957.01" y="1077.40" width="11.7" height="21.00" fill="#7eeaf2"/>
<rect x="957.01" y="1098.40" width="11.7" height="357.20" fill="#ffff00"/>
<rect x="957.01" y="1455.60" width="11.7" height="1.40" fill="#00b4ff"/>
<rect x="957.01" y="1457.00" width="11.7" height="3.00" fill="#92278f"/>
<rect x="957.01" y="1460.00" width="11.7" height="1.00" fill="#008080"/>
<rect x="957.01" y="1461.00" width="11.7" height="1.60" fill="#fdc689"/>
<rect x="972.92" y="796.40" width="11.7" height="22.20" fill="#7da7d9"/>
<rect x="972.92" y="818.60" width="11.7" height="2.00" fill="#008080"/>
<rect x="972.92" y="820.60" width="11.7" height="139.80" fill="#ec008c"/>
<rect x="972.92" y="960.40" width="11.7" height="315.20" fill="#f9977a"/>
<rect x="972.92" y="1275.60" width="11.7" height="71.80" fill="#7eeaf2"/>
<rect x="972.92" y="1347.40" width="11.7" height="110.20" fill="#ffff00"/>
<rect x="972.92" y="1457.60" width="11.7" height="5.00" fill="#92278f"/>
<rect x="988.83" y="796.40" width="11.7" height="20.20" fill="#7da7d9"/>
<rect x="988.83" y="816.60" width="11.7" height="1.80" fill="#008080"/>
<rect x="988.83" y="818.40" width="11.7" height="147.20" fill="#ec008c"/>
<rect x="988.83" y="965.60" width="11.7" height="213.40" fill="#f9977a"/>
<rect x="988.83" y="1179.00" width="11.7" height="70.40" fill="#7eeaf2"/>
<rect x="988.83" y="1249.40" width="11.7" height="203.60" fill="#ffff00"/>
<rect x="988.83" y="1453.00" width="11.7" height="9.60" fill="#92278f"/>
<rect x="1004.74" y="796.40" width="11.7" height="19.20" fill="#7da7d9"/>
<rect x="1004.74" y="815.60" width="11.7" height="2.00" fill="#008080"/>
<rect x="1004.74" y="817.60" width="11.7" height="166.40" fill="#ec008c"/>
<rect x="1004.74" y="984.00" width="11.7" height="271.00" fill="#f9977a"/>
<rect x="1004.74" y="1255.00" width="11.7" height="73.60" fill="#7eeaf2"/>
<rect x="1004.74" y="1328.60" width="11.7" height="128.00" fill="#ffff00"/>
<rect x="1004.74" y="1456.60" width="11.7" height="6.00" fill="#92278f"/>
<rect x="1020.65" y="796.40" width="11.7" height="18.60" fill="#7da7d9"/>
<rect x="1020.65" y="815.00" width="11.7" height="24.00" fill="#008080"/>
<rect x="1020.65" y="839.00" width="11.7" height="13.00" fill="#c08292"/>
<rect x="1020.65" y="852.00" width="11.7" height="22.00" fill="#ec008c"/>
<rect x="1020.65" y="874.00" width="11.7" height="3.00" fill="#5f9ea0"/>
<rect x="1020.65" y="877.00" width="11.7" height="206.60" fill="#7eeaf2"/>
<rect x="1020.65" y="1083.60" width="11.7" height="65.80" fill="#ffff00"/>
<rect x="1020.65" y="1149.40" width="11.7" height="19.20" fill="#92278f"/>
<rect x="1020.65" y="1168.60" width="11.7" height="4.80" fill="#ff0000"/>
<rect x="1020.65" y="1173.40" width="11.7" height="289.20" fill="#92278f"/>
<rect x="1036.56" y="796.40" width="11.7" height="22.60" fill="#7da7d9"/>
<rect x="1036.56" y="819.00" width="11.7" height="96.00" fill="#008080"/>
<rect x="1036.56" y="915.00" width="11.7" height="15.60" fill="#c08292"/>
<rect x="1036.56" y="930.60" width="11.7" height="6.40" fill="#ec008c"/>
<rect x="1036.56" y="937.00" width="11.7" height="2.00" fill="#0000ff"/>
<rect x="1036.56" y="939.00" width="11.7" height="2.00" fill="#f9977a"/>
<rect x="1036.56" y="941.00" width="11.7" height="9.60" fill="#5f9ea0"/>
<rect x="1036.56" y="950.60" width="11.7" height="301.40" fill="#7eeaf2"/>
<rect x="1036.56" y="1252.00" width="11.7" height="132.00" fill="#ffff00"/>
<rect x="1036.56" y="1384.00" width="11.7" height="72.60" fill="#92278f"/>
<rect x="1036.56" y="1456.60" width="11.7" height="1.00" fill="#ff0000"/>
<rect x="1036.56" y="1457.60" width="11.7" height="2.40" fill="#92278f"/>
<rect x="1036.56" y="1460.00" width="11.7" height="1.40" fill="#00f00a"/>
<rect x="1036.56" y="1461.40" width="11.7" height="1.20" fill="#fff799"/>
<rect x="1052.47" y="796.40" width="11.7" height="28.60" fill="#7da7d9"/>
<rect x="1052.47" y="825.00" width="11.7" height="28.00" fill="#008080"/>
<rect x="1052.47" y="853.00" width="11.7" height="6.00" fill="#c08292"/>
<rect x="1052.47" y="859.00" width="11.7" height="4.60" fill="#ec008c"/>
<rect x="1052.47" y="863.60" width="11.7" height="3.40" fill="#5f9ea0"/>
<rect x="1052.47" y="867.00" width="11.7" height="112.60" fill="#7eeaf2"/>
<rect x="1052.47" y="979.60" width="11.7" height="269.40" fill="#ffff00"/>
<rect x="1052.47" y="1249.00" width="11.7" height="177.00" fill="#92278f"/>
<rect x="1052.47" y="1426.00" width="11.7" height="1.00" fill="#f26c0d"/>
<rect x="1052.47" y="1427.00" width="11.7" height="35.60" fill="#92278f"/>
<rect x="1068.38" y="796.40" width="11.7" height="21.60" fill="#7da7d9"/>
<rect x="1068.38" y="818.00" width="11.7" height="1.00" fill="#6b420c"/>
<rect x="1068.38" y="819.00" width="11.7" height="5.00" fill="#008080"/>
<rect x="1068.38" y="824.00" width="11.7" height="2.00" fill="#c08292"/>
<rect x="1068.38" y="826.00" width="11.7" height="53.40" fill="#ec008c"/>
<rect x="1068.38" y="879.40" width="11.7" height="1.60" fill="#2b3d00"/>
<rect x="1068.38" y="881.00" width="11.7" height="34.60" fill="#f9977a"/>
<rect x="1068.38" y="915.60" width="11.7" height="54.40" fill="#5f9ea0"/>
<rect x="1068.38" y="970.00" width="11.7" height="318.00" fill="#7eeaf2"/>
<rect x="1068.38" y="1288.00" width="11.7" height="59.60" fill="#ffff00"/>
<rect x="1068.38" y="1347.60" width="11.7" height="51.40" fill="#92278f"/>
<rect x="1068.38" y="1399.00" width="11.7" height="2.40" fill="#c08292"/>
<rect x="1068.38" y="1401.40" width="11.7" height="15.20" fill="#008080"/>
<rect x="1068.38" y="1416.60" width="11.7" height="1.40" fill="#5f9ea0"/>
<rect x="1068.38" y="1418.00" width="11.7" height="44.60" fill="#fdc689"/>
<rect x="1084.29" y="796.40" width="11.7" height="27.00" fill="#7da7d9"/>
<rect x="1084.29" y="823.40" width="11.7" height="48.60" fill="#008080"/>
<rect x="1084.29" y="872.00" width="11.7" height="76.40" fill="#c08292"/>
<rect x="1084.29" y="948.40" width="11.7" height="20.60" fill="#ec008c"/>
<rect x="1084.29" y="969.00" width="11.7" height="23.60" fill="#5f9ea0"/>
<rect x="1084.29" y="992.60" width="11.7" height="309.40" fill="#7eeaf2"/>
<rect x="1084.29" y="1302.00" width="11.7" height="21.60" fill="#ffff00"/>
<rect x="1084.29" y="1323.60" width="11.7" height="126.80" fill="#92278f"/>
<rect x="1084.29" y="1450.40" width="11.7" height="4.60" fill="#008080"/>
<rect x="1084.29" y="1455.00" width="11.7" height="7.60" fill="#fdc689"/>
<rect x="1100.20" y="796.40" width="11.7" height="23.60" fill="#7da7d9"/>
<rect x="1100.20" y="820.00" width="11.7" height="36.40" fill="#008080"/>
<rect x="1100.20" y="856.40" width="11.7" height="58.20" fill="#c08292"/>
<rect x="1100.20" y="914.60" width="11.7" height="18.00" fill="#ec008c"/>
<rect x="1100.20" y="932.60" width="11.7" height="3.00" fill="#f9977a"/>
<rect x="1100.20" y="935.60" width="11.7" height="16.80" fill="#5f9ea0"/>
<rect x="1100.20" y="952.40" width="11.7" height="336.60" fill="#7eeaf2"/>
<rect x="1100.20" y="1289.00" width="11.7" height="21.60" fill="#ffff00"/>
<rect x="1100.20" y="1310.60" width="11.7" height="138.00" fill="#92278f"/>
<rect x="1100.20" y="1448.60" width="11.7" height="3.40" fill="#008080"/>
<rect x="1100.20" y="1452.00" width="11.7" height="10.60" fill="#fdc689"/>
</g>
<line x1="374.6" y1="53.7" x2="374.6" y2="709.3" stroke="#000" stroke-width="2.1"/>
<line x1="356" y1="53.7" x2="388" y2="53.7" stroke="#000" stroke-width="1.9"/>
<text x="387" y="60.3" class="ax" font-size="20">100%</text>
<line x1="357.5" y1="118.3" x2="388" y2="118.3" stroke="#000" stroke-width="1.9"/>
<text x="391.5" y="124.9" class="ax" font-size="20">90%</text>
<line x1="358.5" y1="191" x2="388" y2="191" stroke="#000" stroke-width="1.9"/>
<text x="391" y="196.0" class="ax" font-size="20">80%</text>
<line x1="359.5" y1="258.7" x2="388" y2="258.7" stroke="#000" stroke-width="1.9"/>
<text x="388" y="268.1" class="ax" font-size="20">70%</text>
<line x1="359.5" y1="324.3" x2="388" y2="324.3" stroke="#000" stroke-width="1.9"/>
<text x="392" y="332.1" class="ax" font-size="20">60%</text>
<line x1="359.5" y1="382.5" x2="388" y2="382.5" stroke="#000" stroke-width="1.9"/>
<text x="391" y="390.2" class="ax" font-size="20">50%</text>
<line x1="360" y1="445.5" x2="388" y2="445.5" stroke="#000" stroke-width="1.9"/>
<text x="388" y="451.4" class="ax" font-size="20">40%</text>
<line x1="360.5" y1="512" x2="388" y2="512" stroke="#000" stroke-width="1.9"/>
<text x="391" y="517.6" class="ax" font-size="20">30%</text>
<line x1="362" y1="581.3" x2="388" y2="581.3" stroke="#000" stroke-width="1.9"/>
<text x="391" y="586.7" class="ax" font-size="20">20%</text>
<line x1="361.5" y1="647" x2="388" y2="647" stroke="#000" stroke-width="1.9"/>
<text x="388" y="653.6" class="ax" font-size="20">10%</text>
<line x1="362.5" y1="709.3" x2="388" y2="709.3" stroke="#000" stroke-width="1.9"/>
<text x="390" y="717.1" class="ax" font-size="20">0%</text>
<line x1="375" y1="794.3" x2="375" y2="1457.5" stroke="#000" stroke-width="2.1"/>
<line x1="357" y1="794.3" x2="388" y2="794.3" stroke="#000" stroke-width="1.9"/>
<text x="388.5" y="799.3" class="ax" font-size="17.6">100%</text>
<line x1="358" y1="859.3" x2="388" y2="859.3" stroke="#000" stroke-width="1.9"/>
<text x="391.5" y="865.9" class="ax" font-size="19.3">90%</text>
<line x1="359" y1="933" x2="388" y2="933" stroke="#000" stroke-width="1.9"/>
<text x="390.5" y="938.4" class="ax" font-size="19.3">80%</text>
<line x1="360.5" y1="1001.2" x2="388" y2="1001.2" stroke="#000" stroke-width="1.9"/>
<text x="388" y="1009.8" class="ax" font-size="19.3">70%</text>
<line x1="360" y1="1068" x2="388" y2="1068" stroke="#000" stroke-width="1.9"/>
<text x="392" y="1075.5" class="ax" font-size="19.3">60%</text>
<line x1="360" y1="1126.3" x2="388" y2="1126.3" stroke="#000" stroke-width="1.9"/>
<text x="390.5" y="1134.9" class="ax" font-size="19.3">50%</text>
<line x1="360.5" y1="1190" x2="388" y2="1190" stroke="#000" stroke-width="1.9"/>
<text x="388" y="1195.9" class="ax" font-size="19.3">40%</text>
<line x1="361" y1="1257" x2="388" y2="1257" stroke="#000" stroke-width="1.9"/>
<text x="391" y="1263.4" class="ax" font-size="19.3">30%</text>
<line x1="363" y1="1327" x2="388" y2="1327" stroke="#000" stroke-width="1.9"/>
<text x="390.5" y="1332.9" class="ax" font-size="19.3">20%</text>
<line x1="362" y1="1394" x2="388" y2="1394" stroke="#000" stroke-width="1.9"/>
<text x="388" y="1400.6" class="ax" font-size="19.3">10%</text>
<line x1="362.5" y1="1457.5" x2="388" y2="1457.5" stroke="#000" stroke-width="1.9"/>
<text x="390" y="1464.5" class="ax" font-size="19.3">0%</text>
<text x="4" y="29.5" class="ttl">Bacterial</text>
<text x="4" y="74.5" class="ttl">Community</text>
<text x="4" y="119.5" class="ttl">Structure - Phylum</text>
<text x="8.5" y="708.8" class="ttl">Bacterial</text>
<text x="8.5" y="754.1" class="ttl">Community</text>
<text x="8.5" y="799.4" class="ttl">Strucutre - Order</text>
<text x="350.4" y="34.2" class="pl" font-size="56">a</text>
<text x="351" y="781.6" class="pl" font-size="55">b</text>
<text x="1146.2" y="35.2" class="pl" font-size="57.5">c</text>
<text x="1186" y="69.5" class="ttl2">Dominant Families in Small Intestine</text>
<rect x="29.5" y="171.8" width="27.5" height="8.9" fill="#fff48f"/>
<text x="58.8" y="180.3" class="lg">Proteobacteria</text>
<rect x="29.5" y="201.8" width="27.5" height="8.9" fill="#969696"/>
<text x="58.8" y="210.3" class="lg">Firmicutes</text>
<rect x="29.5" y="231.8" width="27.5" height="8.9" fill="#00fa00"/>
<text x="58.8" y="240.3" class="lg">Fusobacteria</text>
<rect x="29.5" y="262.3" width="27.5" height="8.9" fill="#ff6a13"/>
<text x="58.8" y="270.8" class="lg">Actinobacteria</text>
<rect x="29.5" y="292.6" width="27.5" height="8.9" fill="#8e2a91"/>
<text x="58.8" y="301.1" class="lg">Bacteroidetes</text>
<rect x="29.5" y="323.0" width="27.5" height="8.9" fill="#5ff5ff"/>
<text x="58.8" y="331.5" class="lg">Chlamydiae</text>
<rect x="29.5" y="353.3" width="27.5" height="8.9" fill="#0000ff"/>
<text x="58.8" y="361.8" class="lg">Acidobacteria</text>
<rect x="29.5" y="383.3" width="27.5" height="8.9" fill="#f49ac1"/>
<text x="58.8" y="391.8" class="lg">Chloroflexi</text>
<rect x="29.5" y="413.1" width="27.5" height="8.9" fill="#ec008c"/>
<text x="58.8" y="421.6" class="lg">Saccharibacteria</text>
<rect x="29.5" y="443.3" width="27.5" height="8.9" fill="#00aeef"/>
<text x="58.8" y="451.8" class="lg">Spirochatae</text>
<rect x="29.5" y="473.3" width="27.5" height="8.9" fill="#00381c"/>
<text x="58.8" y="481.8" class="lg">Unassigned</text>
<rect x="29.5" y="835.8" width="27.5" height="8.9" fill="#82ca9c"/>
<text x="59.6" y="844.3" class="lg">Campylobacterales</text>
<rect x="29.5" y="867.1" width="27.5" height="8.9" fill="#00ffff"/>
<text x="59.6" y="875.6" class="lg">Clostridiales</text>
<rect x="29.5" y="896.8" width="27.5" height="8.9" fill="#ec008c"/>
<text x="59.6" y="905.3" class="lg">Enterobacteriales</text>
<rect x="29.5" y="926.3" width="27.5" height="8.9" fill="#ffff00"/>
<text x="59.6" y="934.8" class="lg">Lactobacillales</text>
<rect x="29.5" y="956.3" width="27.5" height="8.9" fill="#f7a57d"/>
<text x="59.6" y="964.8" class="lg">Fusobacteriales</text>
<rect x="29.5" y="987.1" width="27.5" height="8.9" fill="#9b26a0"/>
<text x="59.6" y="995.6" class="lg">Bacteroidales</text>
<rect x="29.5" y="1016.8" width="27.5" height="8.9" fill="#5f9ea0"/>
<text x="59.6" y="1025.3" class="lg">Erysipelothricales</text>
<rect x="29.5" y="1047.3" width="27.5" height="8.9" fill="#007a73"/>
<text x="59.6" y="1055.8" class="lg">Xanthomondales</text>
<rect x="29.5" y="1077.3" width="27.5" height="8.9" fill="#969696"/>
<text x="59.6" y="1085.8" class="lg">Chlamydiales</text>
<rect x="29.5" y="1107.3" width="27.5" height="8.9" fill="#004d40"/>
<text x="59.6" y="1115.8" class="lg">Coriobacteriales</text>
<rect x="29.5" y="1138.1" width="27.5" height="8.9" fill="#92278f"/>
<text x="59.6" y="1146.6" class="lg">Bacillales</text>
<rect x="29.5" y="1168.1" width="27.5" height="8.9" fill="#bd8cab"/>
<text x="59.6" y="1176.6" class="lg">Pseudomonadales</text>
<rect x="29.5" y="1198.1" width="27.5" height="8.9" fill="#fdc689"/>
<text x="59.6" y="1206.6" class="lg">Bifidobacteriales</text>
<rect x="29.5" y="1228.1" width="27.5" height="8.9" fill="#5e3a17"/>
<text x="59.6" y="1236.6" class="lg">Selenomonadales</text>
<rect x="29.5" y="1258.1" width="27.5" height="8.9" fill="#7b2e00"/>
<text x="59.6" y="1266.6" class="lg">uncultured Actinobacteria</text>
<rect x="29.5" y="1288.1" width="27.5" height="8.9" fill="#7da7d9"/>
<text x="59.6" y="1296.6" class="lg">Unassigned</text>
<rect x="270" y="921" width="26" height="10" fill="#f9f8f6"/>
<rect x="352.8" y="122.5" width="1.3" height="6" fill="#e9e9e9"/>
<rect x="354" y="862.5" width="1.3" height="7" fill="#e9e9e9"/>
<text transform="translate(451.10,724.4) rotate(-90) scale(1,1.16)" text-anchor="end" class="sl">M0.1</text>
<text transform="translate(467.02,724.4) rotate(-90) scale(1,1.16)" text-anchor="end" class="sl">M0.2</text>
<text transform="translate(482.94,724.4) rotate(-90) scale(1,1.16)" text-anchor="end" class="sl">M0.3</text>
<text transform="translate(498.86,724.4) rotate(-90) scale(1,1.16)" text-anchor="end" class="sl">M2.1</text>
<text transform="translate(514.78,724.4) rotate(-90) scale(1,1.16)" text-anchor="end" class="sl">M2.2</text>
<text transform="translate(530.70,724.4) rotate(-90) scale(1,1.16)" text-anchor="end" class="sl">M2.3</text>
<text transform="translate(546.62,724.4) rotate(-90) scale(1,1.16)" text-anchor="end" class="sl">M5.1</text>
<text transform="translate(562.54,724.4) rotate(-90) scale(1,1.16)" text-anchor="end" class="sl">M5.2</text>
<text transform="translate(578.46,724.4) rotate(-90) scale(1,1.16)" text-anchor="end" class="sl">M5.3</text>
<text transform="translate(594.38,724.4) rotate(-90) scale(1,1.16)" text-anchor="end" class="sl">M10.1</text>
<text transform="translate(610.30,724.4) rotate(-90) scale(1,1.16)" text-anchor="end" class="sl">M10.2</text>
<text transform="translate(626.22,724.4) rotate(-90) scale(1,1.16)" text-anchor="end" class="sl">M10.3</text>
<text transform="translate(642.14,724.4) rotate(-90) scale(1,1.16)" text-anchor="end" class="sl">M18.1</text>
<text transform="translate(658.06,724.4) rotate(-90) scale(1,1.16)" text-anchor="end" class="sl">M18.2</text>
<text transform="translate(673.98,724.4) rotate(-90) scale(1,1.16)" text-anchor="end" class="sl">M18.3</text>
<text transform="translate(689.90,724.4) rotate(-90) scale(1,1.16)" text-anchor="end" class="sl">M25.1</text>
<text transform="translate(705.82,724.4) rotate(-90) scale(1,1.16)" text-anchor="end" class="sl">M25.2</text>
<text transform="translate(721.74,724.4) rotate(-90) scale(1,1.16)" text-anchor="end" class="sl">M25.3</text>
<text transform="translate(737.66,724.4) rotate(-90) scale(1,1.16)" text-anchor="end" class="sl">M30.1</text>
<text transform="translate(753.58,724.4) rotate(-90) scale(1,1.16)" text-anchor="end" class="sl">M30.2</text>
<text transform="translate(769.50,724.4) rotate(-90) scale(1,1.16)" text-anchor="end" class="sl">M30.3</text>
<text transform="translate(784.10,726.6) rotate(-90) scale(1,1.16)" text-anchor="end" class="sl">J0.1</text>
<text transform="translate(800.02,726.6) rotate(-90) scale(1,1.16)" text-anchor="end" class="sl">J0.2</text>
<text transform="translate(815.94,726.6) rotate(-90) scale(1,1.16)" text-anchor="end" class="sl">J0.3</text>
<text transform="translate(831.86,726.6) rotate(-90) scale(1,1.16)" text-anchor="end" class="sl">J2.1</text>
<text transform="translate(847.78,726.6) rotate(-90) scale(1,1.16)" text-anchor="end" class="sl">J2.2</text>
<text transform="translate(863.70,726.6) rotate(-90) scale(1,1.16)" text-anchor="end" class="sl">J2.3</text>
<text transform="translate(879.62,726.6) rotate(-90) scale(1,1.16)" text-anchor="end" class="sl">J7.1</text>
<text transform="translate(895.54,726.6) rotate(-90) scale(1,1.16)" text-anchor="end" class="sl">J7.2</text>
<text transform="translate(911.46,726.6) rotate(-90) scale(1,1.16)" text-anchor="end" class="sl">J7.3</text>
<text transform="translate(927.38,726.6) rotate(-90) scale(1,1.16)" text-anchor="end" class="sl">J12.1</text>
<text transform="translate(943.30,726.6) rotate(-90) scale(1,1.16)" text-anchor="end" class="sl">J12.2</text>
<text transform="translate(959.22,726.6) rotate(-90) scale(1,1.16)" text-anchor="end" class="sl">J12.3</text>
<text transform="translate(975.14,726.6) rotate(-90) scale(1,1.16)" text-anchor="end" class="sl">J18.1</text>
<text transform="translate(991.06,726.6) rotate(-90) scale(1,1.16)" text-anchor="end" class="sl">J18.2</text>
<text transform="translate(1006.98,726.6) rotate(-90) scale(1,1.16)" text-anchor="end" class="sl">J18.3</text>
<text transform="translate(1022.90,726.6) rotate(-90) scale(1,1.16)" text-anchor="end" class="sl">J25.1</text>
<text transform="translate(1038.82,726.6) rotate(-90) scale(1,1.16)" text-anchor="end" class="sl">J25.2</text>
<text transform="translate(1054.74,726.6) rotate(-90) scale(1,1.16)" text-anchor="end" class="sl">J25.3</text>
<text transform="translate(1070.66,726.6) rotate(-90) scale(1,1.16)" text-anchor="end" class="sl">J30.1</text>
<text transform="translate(1086.58,726.6) rotate(-90) scale(1,1.16)" text-anchor="end" class="sl">J30.2</text>
<text transform="translate(1102.50,726.6) rotate(-90) scale(1,1.16)" text-anchor="end" class="sl">J30.3</text>
<text transform="translate(455.50,1468.6) rotate(-90) scale(1,1.16)" text-anchor="end" class="sl">M0.1</text>
<text transform="translate(471.42,1468.6) rotate(-90) scale(1,1.16)" text-anchor="end" class="sl">M0.2</text>
<text transform="translate(487.34,1468.6) rotate(-90) scale(1,1.16)" text-anchor="end" class="sl">M0.3</text>
<text transform="translate(503.26,1468.6) rotate(-90) scale(1,1.16)" text-anchor="end" class="sl">M2.1</text>
<text transform="translate(519.18,1468.6) rotate(-90) scale(1,1.16)" text-anchor="end" class="sl">M2.2</text>
<text transform="translate(535.10,1468.6) rotate(-90) scale(1,1.16)" text-anchor="end" class="sl">M2.3</text>
<text transform="translate(551.02,1468.6) rotate(-90) scale(1,1.16)" text-anchor="end" class="sl">M5.1</text>
<text transform="translate(566.94,1468.6) rotate(-90) scale(1,1.16)" text-anchor="end" class="sl">M5.2</text>
<text transform="translate(582.86,1468.6) rotate(-90) scale(1,1.16)" text-anchor="end" class="sl">M5.3</text>
<text transform="translate(598.78,1468.6) rotate(-90) scale(1,1.16)" text-anchor="end" class="sl">M10.1</text>
<text transform="translate(614.70,1468.6) rotate(-90) scale(1,1.16)" text-anchor="end" class="sl">M10.2</text>
<text transform="translate(630.62,1468.6) rotate(-90) scale(1,1.16)" text-anchor="end" class="sl">M10.3</text>
<text transform="translate(646.54,1468.6) rotate(-90) scale(1,1.16)" text-anchor="end" class="sl">M18.1</text>
<text transform="translate(662.46,1468.6) rotate(-90) scale(1,1.16)" text-anchor="end" class="sl">M18.2</text>
<text transform="translate(678.38,1468.6) rotate(-90) scale(1,1.16)" text-anchor="end" class="sl">M18.3</text>
<text transform="translate(694.30,1468.6) rotate(-90) scale(1,1.16)" text-anchor="end" class="sl">M25.1</text>
<text transform="translate(710.22,1468.6) rotate(-90) scale(1,1.16)" text-anchor="end" class="sl">M25.2</text>
<text transform="translate(726.14,1468.6) rotate(-90) scale(1,1.16)" text-anchor="end" class="sl">M25.3</text>
<text transform="translate(742.06,1468.6) rotate(-90) scale(1,1.16)" text-anchor="end" class="sl">M30.1</text>
<text transform="translate(757.98,1468.6) rotate(-90) scale(1,1.16)" text-anchor="end" class="sl">M30.2</text>
<text transform="translate(773.90,1468.6) rotate(-90) scale(1,1.16)" text-anchor="end" class="sl">M30.3</text>
<text transform="translate(791.35,1471) rotate(-90) scale(1,1.16)" text-anchor="end" class="sl">J0.1</text>
<text transform="translate(807.26,1471) rotate(-90) scale(1,1.16)" text-anchor="end" class="sl">J0.2</text>
<text transform="translate(823.17,1471) rotate(-90) scale(1,1.16)" text-anchor="end" class="sl">J0.3</text>
<text transform="translate(839.08,1471) rotate(-90) scale(1,1.16)" text-anchor="end" class="sl">J2.1</text>
<text transform="translate(854.99,1471) rotate(-90) scale(1,1.16)" text-anchor="end" class="sl">J2.2</text>
<text transform="translate(870.90,1471) rotate(-90) scale(1,1.16)" text-anchor="end" class="sl">J2.3</text>
<text transform="translate(886.81,1471) rotate(-90) scale(1,1.16)" text-anchor="end" class="sl">J7.1</text>
<text transform="translate(902.72,1471) rotate(-90) scale(1,1.16)" text-anchor="end" class="sl">J7.2</text>
<text transform="translate(918.63,1471) rotate(-90) scale(1,1.16)" text-anchor="end" class="sl">J7.3</text>
<text transform="translate(934.54,1471) rotate(-90) scale(1,1.16)" text-anchor="end" class="sl">12.1</text>
<text transform="translate(950.45,1471) rotate(-90) scale(1,1.16)" text-anchor="end" class="sl">12.2</text>
<text transform="translate(966.36,1471) rotate(-90) scale(1,1.16)" text-anchor="end" class="sl">12.3</text>
<text transform="translate(982.27,1471) rotate(-90) scale(1,1.16)" text-anchor="end" class="sl">18.1</text>
<text transform="translate(998.18,1471) rotate(-90) scale(1,1.16)" text-anchor="end" class="sl">18.2</text>
<text transform="translate(1014.09,1471) rotate(-90) scale(1,1.16)" text-anchor="end" class="sl">18.3</text>
<text transform="translate(1030.00,1471) rotate(-90) scale(1,1.16)" text-anchor="end" class="sl">25.1</text>
<text transform="translate(1045.91,1471) rotate(-90) scale(1,1.16)" text-anchor="end" class="sl">25.2</text>
<text transform="translate(1061.82,1471) rotate(-90) scale(1,1.16)" text-anchor="end" class="sl">25.3</text>
<text transform="translate(1077.73,1471) rotate(-90) scale(1,1.16)" text-anchor="end" class="sl">30.1</text>
<text transform="translate(1093.64,1471) rotate(-90) scale(1,1.16)" text-anchor="end" class="sl">30.2</text>
<text transform="translate(1109.55,1471) rotate(-90) scale(1,1.16)" text-anchor="end" class="sl">30.3</text>
<line x1="453" y1="767.3" x2="776" y2="767.3" stroke="#000" stroke-width="1.1"/>
<line x1="780.3" y1="767.3" x2="1114.5" y2="767.3" stroke="#000" stroke-width="1.1"/>
<line x1="440" y1="1497.8" x2="763" y2="1500.5" stroke="#000" stroke-width="1.1"/>
<line x1="780.3" y1="1500.2" x2="1106" y2="1500.2" stroke="#000" stroke-width="1.1"/>
<text x="512.5" y="783.7" class="rn"><tspan font-style="italic">Rattus norvegicus</tspan> - March</text>
<text x="853" y="782.4" class="rn"><tspan font-style="italic">Rattus norvegicus</tspan> - June</text>
<text x="503.5" y="1518" class="rn"><tspan font-style="italic">Rattus norvegicus</tspan> - March</text>
<text x="845.7" y="1514" class="rn"><tspan font-style="italic">Rattus norvegicus</tspan> - June</text>
<rect x="1210.8" y="88.7" width="599.25" height="441.56" fill="#fdfdff"/>
<rect x="1290.70" y="88.70" width="40.00" height="31.59" fill="#d4d4fc"/>
<rect x="1370.60" y="88.70" width="40.00" height="31.59" fill="#fbfbfe"/>
<rect x="1690.20" y="88.70" width="40.00" height="31.59" fill="#0532ff"/>
<rect x="1770.10" y="88.70" width="40.00" height="31.59" fill="#f6f6fd"/>
<rect x="1250.75" y="120.24" width="40.00" height="31.59" fill="#ffffff"/>
<rect x="1290.70" y="120.24" width="40.00" height="31.59" fill="#f5f5fe"/>
<rect x="1450.50" y="120.24" width="40.00" height="31.59" fill="#adaffc"/>
<rect x="1490.45" y="120.24" width="40.00" height="31.59" fill="#b9bbfd"/>
<rect x="1570.35" y="120.24" width="40.00" height="31.59" fill="#9496fc"/>
<rect x="1610.30" y="120.24" width="40.00" height="31.59" fill="#fbfbfe"/>
<rect x="1690.20" y="120.24" width="40.00" height="31.59" fill="#f5f6ff"/>
<rect x="1770.10" y="120.24" width="40.00" height="31.59" fill="#fafafe"/>
<rect x="1450.50" y="151.78" width="40.00" height="31.59" fill="#d0d0fb"/>
<rect x="1490.45" y="151.78" width="40.00" height="31.59" fill="#e9e9fe"/>
<rect x="1570.35" y="151.78" width="40.00" height="31.59" fill="#dcdcfb"/>
<rect x="1610.30" y="151.78" width="40.00" height="31.59" fill="#fbfbfe"/>
<rect x="1690.20" y="151.78" width="40.00" height="31.59" fill="#c6c7fb"/>
<rect x="1330.65" y="183.32" width="40.00" height="31.59" fill="#f6f6fe"/>
<rect x="1410.55" y="183.32" width="40.00" height="31.59" fill="#f1f1fe"/>
<rect x="1450.50" y="183.32" width="40.00" height="31.59" fill="#b4b6fc"/>
<rect x="1570.35" y="183.32" width="40.00" height="31.59" fill="#f0f0fd"/>
<rect x="1690.20" y="183.32" width="40.00" height="31.59" fill="#fafaff"/>
<rect x="1730.15" y="183.32" width="40.00" height="31.59" fill="#6066fa"/>
<rect x="1770.10" y="183.32" width="40.00" height="31.59" fill="#f7f7fe"/>
<rect x="1410.55" y="214.86" width="40.00" height="31.59" fill="#b8bafc"/>
<rect x="1450.50" y="214.86" width="40.00" height="31.59" fill="#f1f1fc"/>
<rect x="1490.45" y="214.86" width="40.00" height="31.59" fill="#c4c5fc"/>
<rect x="1570.35" y="214.86" width="40.00" height="31.59" fill="#f6f6fe"/>
<rect x="1610.30" y="214.86" width="40.00" height="31.59" fill="#f5f5fe"/>
<rect x="1690.20" y="214.86" width="40.00" height="31.59" fill="#edeffe"/>
<rect x="1730.15" y="214.86" width="40.00" height="31.59" fill="#dedffc"/>
<rect x="1410.55" y="246.40" width="40.00" height="31.59" fill="#e7e7fd"/>
<rect x="1450.50" y="246.40" width="40.00" height="31.59" fill="#ffffff"/>
<rect x="1490.45" y="246.40" width="40.00" height="31.59" fill="#dfdffd"/>
<rect x="1530.40" y="246.40" width="40.00" height="31.59" fill="#fbfbfe"/>
<rect x="1690.20" y="246.40" width="40.00" height="31.59" fill="#f9f9ff"/>
<rect x="1730.15" y="246.40" width="40.00" height="31.59" fill="#0632ff"/>
<rect x="1410.55" y="277.94" width="40.00" height="31.59" fill="#d8d8fc"/>
<rect x="1450.50" y="277.94" width="40.00" height="31.59" fill="#adaffc"/>
<rect x="1490.45" y="277.94" width="40.00" height="31.59" fill="#cdcdfb"/>
<rect x="1530.40" y="277.94" width="40.00" height="31.59" fill="#fbfbfe"/>
<rect x="1730.15" y="277.94" width="40.00" height="31.59" fill="#a0a4fb"/>
<rect x="1770.10" y="277.94" width="40.00" height="31.59" fill="#f6f6fd"/>
<rect x="1450.50" y="309.48" width="40.00" height="31.59" fill="#d7d7fb"/>
<rect x="1490.45" y="309.48" width="40.00" height="31.59" fill="#b8bafb"/>
<rect x="1570.35" y="309.48" width="40.00" height="31.59" fill="#adaffb"/>
<rect x="1610.30" y="309.48" width="40.00" height="31.59" fill="#a2a4fb"/>
<rect x="1770.10" y="309.48" width="40.00" height="31.59" fill="#f8f8fe"/>
<rect x="1210.80" y="341.02" width="40.00" height="31.59" fill="#b9bbfc"/>
<rect x="1250.75" y="341.02" width="40.00" height="31.59" fill="#fafafd"/>
<rect x="1370.60" y="341.02" width="40.00" height="31.59" fill="#a3a5fb"/>
<rect x="1410.55" y="341.02" width="40.00" height="31.59" fill="#f2f2fd"/>
<rect x="1450.50" y="341.02" width="40.00" height="31.59" fill="#fafafe"/>
<rect x="1490.45" y="341.02" width="40.00" height="31.59" fill="#f4f4fd"/>
<rect x="1570.35" y="341.02" width="40.00" height="31.59" fill="#f7f7fe"/>
<rect x="1610.30" y="341.02" width="40.00" height="31.59" fill="#e4e4fc"/>
<rect x="1730.15" y="341.02" width="40.00" height="31.59" fill="#e9e9fc"/>
<rect x="1770.10" y="341.02" width="40.00" height="31.59" fill="#dbdbfa"/>
<rect x="1250.75" y="372.56" width="40.00" height="31.59" fill="#fbfbfd"/>
<rect x="1410.55" y="372.56" width="40.00" height="31.59" fill="#f8f8fe"/>
<rect x="1450.50" y="372.56" width="40.00" height="31.59" fill="#d2d2fa"/>
<rect x="1490.45" y="372.56" width="40.00" height="31.59" fill="#c6c6fa"/>
<rect x="1570.35" y="372.56" width="40.00" height="31.59" fill="#d4d4fb"/>
<rect x="1610.30" y="372.56" width="40.00" height="31.59" fill="#eeeefd"/>
<rect x="1730.15" y="372.56" width="40.00" height="31.59" fill="#7f82fa"/>
<rect x="1770.10" y="372.56" width="40.00" height="31.59" fill="#f7f7fe"/>
<rect x="1410.55" y="404.10" width="40.00" height="31.59" fill="#c5c6fb"/>
<rect x="1450.50" y="404.10" width="40.00" height="31.59" fill="#dcdcfb"/>
<rect x="1490.45" y="404.10" width="40.00" height="31.59" fill="#d6d6fb"/>
<rect x="1570.35" y="404.10" width="40.00" height="31.59" fill="#e3e3fc"/>
<rect x="1650.25" y="404.10" width="40.00" height="31.59" fill="#e0e0fb"/>
<rect x="1730.15" y="404.10" width="40.00" height="31.59" fill="#aaacfb"/>
<rect x="1770.10" y="404.10" width="40.00" height="31.59" fill="#f4f4fd"/>
<rect x="1410.55" y="435.64" width="40.00" height="31.59" fill="#c0c1fb"/>
<rect x="1450.50" y="435.64" width="40.00" height="31.59" fill="#fafafe"/>
<rect x="1490.45" y="435.64" width="40.00" height="31.59" fill="#ececfd"/>
<rect x="1530.40" y="435.64" width="40.00" height="31.59" fill="#f6f6fd"/>
<rect x="1650.25" y="435.64" width="40.00" height="31.59" fill="#7a7ef9"/>
<rect x="1730.15" y="435.64" width="40.00" height="31.59" fill="#babcfb"/>
<rect x="1770.10" y="435.64" width="40.00" height="31.59" fill="#f8f8fe"/>
<rect x="1250.75" y="467.18" width="40.00" height="31.59" fill="#cccdfb"/>
<rect x="1330.65" y="467.18" width="40.00" height="31.59" fill="#dcdcfb"/>
<rect x="1410.55" y="467.18" width="40.00" height="31.59" fill="#bebffb"/>
<rect x="1450.50" y="467.18" width="40.00" height="31.59" fill="#f9f9fe"/>
<rect x="1490.45" y="467.18" width="40.00" height="31.59" fill="#f5f5fe"/>
<rect x="1530.40" y="467.18" width="40.00" height="31.59" fill="#afb1fb"/>
<rect x="1730.15" y="467.18" width="40.00" height="31.59" fill="#fafafe"/>
<rect x="1770.10" y="467.18" width="40.00" height="31.59" fill="#f7f7fe"/>
<rect x="1330.65" y="498.72" width="40.00" height="31.59" fill="#cdcdfa"/>
<rect x="1410.55" y="498.72" width="40.00" height="31.59" fill="#f6f6fe"/>
<rect x="1450.50" y="498.72" width="40.00" height="31.59" fill="#fbfbfe"/>
<rect x="1490.45" y="498.72" width="40.00" height="31.59" fill="#c7c7fa"/>
<rect x="1530.40" y="498.72" width="40.00" height="31.59" fill="#aaacfb"/>
<rect x="1570.35" y="498.72" width="40.00" height="31.59" fill="#fafafe"/>
<rect x="1610.30" y="498.72" width="40.00" height="31.59" fill="#f2f2fd"/>
<rect x="1650.25" y="498.72" width="40.00" height="31.59" fill="#f9f9fe"/>
<rect x="1730.15" y="498.72" width="40.00" height="31.59" fill="#f2f2fd"/>
<rect x="1770.10" y="498.72" width="40.00" height="31.59" fill="#f7f7fe"/>
<rect x="1210.6" y="88.3" width="599.5" height="443.5" fill="none" stroke="#000" stroke-width="3.4"/>
<text x="1201.5" y="110.5" text-anchor="end" class="rl">M0</text>
<text x="1201.5" y="142.0" text-anchor="end" class="rl">M2</text>
<text x="1201.5" y="173.6" text-anchor="end" class="rl">M5</text>
<text x="1201.5" y="205.1" text-anchor="end" class="rl">M10</text>
<text x="1201.5" y="236.6" text-anchor="end" class="rl">M18</text>
<text x="1201.5" y="268.2" text-anchor="end" class="rl">M25</text>
<text x="1201.5" y="299.7" text-anchor="end" class="rl">M30</text>
<text x="1201.5" y="331.2" text-anchor="end" class="rl">J0</text>
<text x="1201.5" y="362.8" text-anchor="end" class="rl">J2</text>
<text x="1201.5" y="394.3" text-anchor="end" class="rl">J7</text>
<text x="1201.5" y="425.9" text-anchor="end" class="rl">J12</text>
<text x="1201.5" y="457.4" text-anchor="end" class="rl">J18</text>
<text x="1201.5" y="488.9" text-anchor="end" class="rl">J25</text>
<text x="1201.5" y="520.5" text-anchor="end" class="rl">J30</text>
<text transform="translate(1235.6,551) rotate(-45.8)" text-anchor="end" class="cl">Corynebacteriaceae</text>
<text transform="translate(1275.5,551) rotate(-45.8)" text-anchor="end" class="cl">Bacteroidaceae</text>
<text transform="translate(1315.5,551) rotate(-45.8)" text-anchor="end" class="cl">Chlamydiaceae</text>
<text transform="translate(1355.4,551) rotate(-45.8)" text-anchor="end" class="cl">Planococcaceae</text>
<text transform="translate(1395.4,551) rotate(-45.8)" text-anchor="end" class="cl">Staphylococcaceae</text>
<text transform="translate(1435.3,551) rotate(-45.8)" text-anchor="end" class="cl">Enterococcaceae</text>
<text transform="translate(1475.3,551) rotate(-45.8)" text-anchor="end" class="cl">Lactobacillaceae</text>
<text transform="translate(1515.2,551) rotate(-45.8)" text-anchor="end" class="cl">Clostridiaceae 1</text>
<text transform="translate(1555.2,551) rotate(-45.8)" text-anchor="end" class="cl">Clostridiales Family XI</text>
<text transform="translate(1595.1,551) rotate(-45.8)" text-anchor="end" class="cl">Peptostreptococcaceae</text>
<text transform="translate(1635.1,551) rotate(-45.8)" text-anchor="end" class="cl">Erysipelotrichaceae</text>
<text transform="translate(1675.0,551) rotate(-45.8)" text-anchor="end" class="cl">Fusobacteriaceae</text>
<text transform="translate(1715.0,551) rotate(-45.8)" text-anchor="end" class="cl">Helicobacteraceae</text>
<text transform="translate(1754.9,551) rotate(-45.8)" text-anchor="end" class="cl">Enterobacteriaceae</text>
<text transform="translate(1794.9,551) rotate(-45.8)" text-anchor="end" class="cl">Unassigned</text>
<text transform="translate(1148,283.5) rotate(-90)" class="mj">March</text>
<text transform="translate(1144,459.5) rotate(-90)" class="mj">June</text>
<defs><linearGradient id="cb" x1="0" y1="0" x2="0" y2="1"><stop offset="0" stop-color="#0532ff"/><stop offset="0.15" stop-color="#2946fc"/><stop offset="0.33" stop-color="#5660f9"/><stop offset="0.5" stop-color="#7f82fa"/><stop offset="0.75" stop-color="#bfc0fc"/><stop offset="1" stop-color="#ffffff"/></linearGradient></defs>
<rect x="1837" y="88.6" width="26.2" height="442.6" fill="url(#cb)" stroke="#000" stroke-width="2"/>
<line x1="1838" y1="147.6" x2="1841.5" y2="147.6" stroke="#000" stroke-width="1.6"/>
<line x1="1859" y1="147.6" x2="1863.5" y2="147.6" stroke="#000" stroke-width="1.6"/>
<text x="1872.8" y="152.8" class="cbl">0.6</text>
<line x1="1838" y1="275" x2="1841.5" y2="275" stroke="#000" stroke-width="1.6"/>
<line x1="1859" y1="275" x2="1863.5" y2="275" stroke="#000" stroke-width="1.6"/>
<text x="1872.8" y="280.2" class="cbl">0.4</text>
<line x1="1838" y1="403.2" x2="1841.5" y2="403.2" stroke="#000" stroke-width="1.6"/>
<line x1="1859" y1="403.2" x2="1863.5" y2="403.2" stroke="#000" stroke-width="1.6"/>
<text x="1872.8" y="408.4" class="cbl">0.2</text>
<text x="1872.8" y="535.8" class="cbl">0</text>
</svg>
</body></html>
